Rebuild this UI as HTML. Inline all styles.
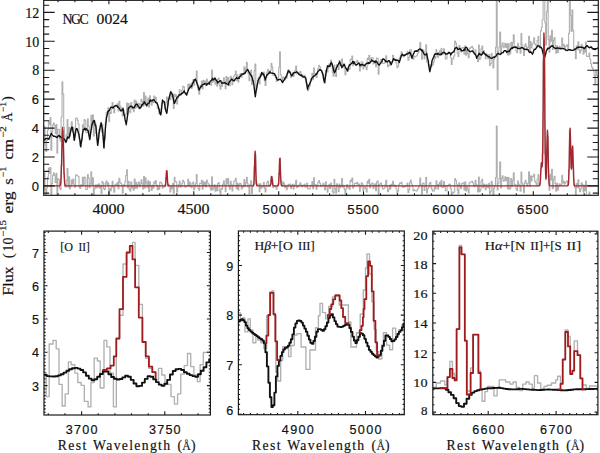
<!DOCTYPE html>
<html><head><meta charset="utf-8"><title>NGC 0024 spectrum</title>
<style>
html,body{margin:0;padding:0;background:#fff;}
body{width:600px;height:453px;overflow:hidden;font-family:"Liberation Serif",serif;}
svg{display:block;}
</style></head><body>
<svg width="600" height="453" viewBox="0 0 600 453">
<rect width="600" height="453" fill="#fff"/>
<defs>
<clipPath id="ct"><rect x="43.7" y="0.35" width="554.5999999999999" height="194.95000000000002"/></clipPath>
<clipPath id="c1"><rect x="44.0" y="231.1" width="166.4" height="183.9"/></clipPath>
<clipPath id="c2"><rect x="238.4" y="231.0" width="165.9" height="183.7"/></clipPath>
<clipPath id="c3"><rect x="432.8" y="231.2" width="165.09999999999997" height="183.5"/></clipPath>
</defs>
<g clip-path="url(#ct)">
<polyline points="43.3,145 44.1,145 44.1,126.4 45,126.4 45,141.8 45.8,141.8 45.8,151.4 46.7,151.4 46.7,140.4 47.5,140.4 47.5,130.1 48.4,130.1 48.4,121.4 49.2,121.4 49.2,124.7 50.1,124.7 50.1,117.5 50.9,117.5 50.9,150.2 51.8,150.2 51.8,132 52.6,132 52.6,124.8 53.5,124.8 53.5,123 54.3,123 54.3,125.8 55.2,125.8 55.2,133.5 56,133.5 56,124.5 56.9,124.5 56.9,153.3 57.7,153.3 57.7,129.2 58.6,129.2 58.6,129.5 59.4,129.5 59.4,138.8 60.3,138.8 60.3,141.3 61.1,141.3 61.1,117.2 62,117.2 62,81.8 62.8,81.8 62.8,94.1 63.7,94.1 63.7,127.2 64.5,127.2 64.5,141 65.4,141 65.4,142.7 66.2,142.7 66.2,134.6 67.1,134.6 67.1,119.6 67.9,119.6 67.9,138.5 68.8,138.5 68.8,127.2 69.6,127.2 69.6,136.2 70.5,136.2 70.5,130.8 71.3,130.8 71.3,121.7 72.2,121.7 72.2,128.2 73,128.2 73,127.5 73.9,127.5 73.9,139.5 74.7,139.5 74.7,136.2 75.6,136.2 75.6,118.2 76.4,118.2 76.4,118 77.3,118 77.3,120.4 78.1,120.4 78.1,124.1 79,124.1 79,139 79.8,139 79.8,146 80.7,146 80.7,143.8 81.5,143.8 81.5,139.2 82.4,139.2 82.4,124.8 83.2,124.8 83.2,128.1 84.1,128.1 84.1,119.6 84.9,119.6 84.9,120.3 85.8,120.3 85.8,132.2 86.6,132.2 86.6,132.6 87.5,132.6 87.5,118.9 88.3,118.9 88.3,126 89.2,126 89.2,139.9 90,139.9 90,132.3 90.9,132.3 90.9,115.3 91.7,115.3 91.7,124.9 92.6,124.9 92.6,114.8 93.4,114.8 93.4,136 94.3,136 94.3,124.4 95.1,124.4 95.1,123.8 96,123.8 96,133.4 96.8,133.4 96.8,139.5 97.7,139.5 97.7,142.7 98.5,142.7 98.5,132.2 99.4,132.2 99.4,130.3 100.2,130.3 100.2,124.7 101.1,124.7 101.1,132.1 101.9,132.1 101.9,124.3 102.8,124.3 102.8,135.3 103.6,135.3 103.6,148.4 104.5,148.4 104.5,139.2 105.3,139.2 105.3,122.5 106.2,122.5 106.2,112.3 107,112.3 107,112.9 107.9,112.9 107.9,107.7 108.7,107.7 108.7,121.4 109.6,121.4 109.6,112.2 110.4,112.2 110.4,113.4 111.3,113.4 111.3,108.7 112.1,108.7 112.1,102.6 113,102.6 113,108.5 113.8,108.5 113.8,112.8 114.7,112.8 114.7,105.9 115.5,105.9 115.5,105.1 116.4,105.1 116.4,106.4 117.2,106.4 117.2,103.7 118.1,103.7 118.1,111 118.9,111 118.9,101.4 119.8,101.4 119.8,106.1 120.6,106.1 120.6,107.9 121.5,107.9 121.5,109.4 122.3,109.4 122.3,115.9 123.2,115.9 123.2,110.1 124,110.1 124,115.4 124.9,115.4 124.9,115.3 125.7,115.3 125.7,113.5 126.6,113.5 126.6,103.1 127.4,103.1 127.4,114.4 128.3,114.4 128.3,103.6 129.1,103.6 129.1,111.2 130,111.2 130,112.7 130.8,112.7 130.8,102.6 131.7,102.6 131.7,108.8 132.5,108.8 132.5,106.7 133.4,106.7 133.4,111.6 134.2,111.6 134.2,100 135.1,100 135.1,108.1 135.9,108.1 135.9,101.1 136.8,101.1 136.8,107.2 137.6,107.2 137.6,104.2 138.5,104.2 138.5,103.2 139.3,103.2 139.3,107.8 140.2,107.8 140.2,104.2 141,104.2 141,99.2 141.9,99.2 141.9,101.5 142.7,101.5 142.7,106.1 143.6,106.1 143.6,92.5 144.4,92.5 144.4,104.9 145.3,104.9 145.3,96 146.1,96 146.1,102.4 147,102.4 147,106 147.8,106 147.8,98 148.7,98 148.7,107.1 149.5,107.1 149.5,95.8 150.4,95.8 150.4,100 151.2,100 151.2,105.1 152.1,105.1 152.1,100.3 152.9,100.3 152.9,102.7 153.8,102.7 153.8,96 154.6,96 154.6,99.2 155.5,99.2 155.5,97.3 156.3,97.3 156.3,102.7 157.2,102.7 157.2,108.5 158,108.5 158,108.3 158.9,108.3 158.9,113.7 159.7,113.7 159.7,109.1 160.6,109.1 160.6,109.9 161.4,109.9 161.4,103.6 162.3,103.6 162.3,102.4 163.1,102.4 163.1,102.3 164,102.3 164,102.9 164.8,102.9 164.8,108.9 165.7,108.9 165.7,102.4 166.5,102.4 166.5,97.1 167.4,97.1 167.4,105.3 168.2,105.3 168.2,98.7 169.1,98.7 169.1,97.5 169.9,97.5 169.9,99.5 170.8,99.5 170.8,92.9 171.6,92.9 171.6,96.8 172.5,96.8 172.5,94.6 173.3,94.6 173.3,108.5 174.2,108.5 174.2,94 175,94 175,96.5 175.9,96.5 175.9,95.1 176.7,95.1 176.7,103.9 177.6,103.9 177.6,97.9 178.4,97.9 178.4,94.5 179.3,94.5 179.3,89.8 180.1,89.8 180.1,95.5 181,95.5 181,93.9 181.8,93.9 181.8,90.1 182.7,90.1 182.7,86.2 183.5,86.2 183.5,86.9 184.4,86.9 184.4,92.6 185.2,92.6 185.2,94.4 186.1,94.4 186.1,94.9 186.9,94.9 186.9,92.7 187.8,92.7 187.8,84.3 188.6,84.3 188.6,88.9 189.5,88.9 189.5,83.9 190.3,83.9 190.3,87.5 191.2,87.5 191.2,88.5 192,88.5 192,82.6 192.9,82.6 192.9,79.6 193.7,79.6 193.7,85.5 194.6,85.5 194.6,81.3 195.4,81.3 195.4,78.8 196.3,78.8 196.3,71.1 197.1,71.1 197.1,84.9 198,84.9 198,90 198.8,90 198.8,94.2 199.7,94.2 199.7,86.2 200.5,86.2 200.5,85.2 201.4,85.2 201.4,81 202.2,81 202.2,88.9 203.1,88.9 203.1,80.4 203.9,80.4 203.9,83.8 204.8,83.8 204.8,81 205.6,81 205.6,85.8 206.5,85.8 206.5,79 207.3,79 207.3,81.6 208.2,81.6 208.2,82.5 209,82.5 209,82.9 209.9,82.9 209.9,84.2 210.7,84.2 210.7,85.1 211.6,85.1 211.6,70 212.4,70 212.4,82.1 213.3,82.1 213.3,80.4 214.1,80.4 214.1,77.2 215,77.2 215,84.2 215.8,84.2 215.8,80.7 216.7,80.7 216.7,86.1 217.5,86.1 217.5,79.3 218.4,79.3 218.4,78.1 219.2,78.1 219.2,85.8 220.1,85.8 220.1,89.1 220.9,89.1 220.9,84 221.8,84 221.8,86.2 222.6,86.2 222.6,81.3 223.5,81.3 223.5,77.8 224.3,77.8 224.3,81.7 225.2,81.7 225.2,88.7 226,88.7 226,76.5 226.9,76.5 226.9,82.4 227.7,82.4 227.7,77.6 228.6,77.6 228.6,84.2 229.4,84.2 229.4,85.7 230.3,85.7 230.3,76.2 231.1,76.2 231.1,77.9 232,77.9 232,84.7 232.8,84.7 232.8,79.9 233.7,79.9 233.7,76 234.5,76 234.5,74.8 235.4,74.8 235.4,71 236.2,71 236.2,80.5 237.1,80.5 237.1,74.9 237.9,74.9 237.9,82 238.8,82 238.8,76.6 239.6,76.6 239.6,74.4 240.5,74.4 240.5,73.5 241.3,73.5 241.3,77.1 242.2,77.1 242.2,74.4 243,74.4 243,74.6 243.9,74.6 243.9,66.9 244.7,66.9 244.7,72.4 245.6,72.4 245.6,68.2 246.4,68.2 246.4,62.3 247.3,62.3 247.3,69.1 248.1,69.1 248.1,73.7 249,73.7 249,80.7 249.8,80.7 249.8,72.5 250.7,72.5 250.7,70 251.5,70 251.5,84.4 252.4,84.4 252.4,80.4 253.2,80.4 253.2,81.6 254.1,81.6 254.1,70.6 254.9,70.6 254.9,64 255.8,64 255.8,89 256.6,89 256.6,85.7 257.5,85.7 257.5,80.2 258.3,80.2 258.3,77.4 259.2,77.4 259.2,84 260,84 260,73.9 260.9,73.9 260.9,76.1 261.7,76.1 261.7,74.1 262.6,74.1 262.6,75 263.4,75 263.4,72.1 264.3,72.1 264.3,80.6 265.1,80.6 265.1,85.5 266,85.5 266,77.3 266.8,77.3 266.8,72.1 267.7,72.1 267.7,69.4 268.5,69.4 268.5,73.7 269.4,73.7 269.4,71.2 270.2,71.2 270.2,70.3 271.1,70.3 271.1,63.4 271.9,63.4 271.9,66.9 272.8,66.9 272.8,75.3 273.6,75.3 273.6,75.1 274.5,75.1 274.5,74.7 275.3,74.7 275.3,77.4 276.2,77.4 276.2,81.5 277,81.5 277,80.1 277.9,80.1 277.9,77.3 278.7,77.3 278.7,67.2 279.6,67.2 279.6,51.9 280.4,51.9 280.4,74.6 281.3,74.6 281.3,77.3 282.1,77.3 282.1,82.4 283,82.4 283,77.1 283.8,77.1 283.8,77.6 284.7,77.6 284.7,79.8 285.5,79.8 285.5,76.3 286.4,76.3 286.4,78.1 287.2,78.1 287.2,73.4 288.1,73.4 288.1,69.6 288.9,69.6 288.9,70.7 289.8,70.7 289.8,71.7 290.6,71.7 290.6,77.3 291.5,77.3 291.5,75.6 292.3,75.6 292.3,72.9 293.2,72.9 293.2,76.5 294,76.5 294,72.8 294.9,72.8 294.9,70.4 295.7,70.4 295.7,66.1 296.6,66.1 296.6,73.7 297.4,73.7 297.4,73.8 298.3,73.8 298.3,73.9 299.1,73.9 299.1,72.7 300,72.7 300,71.4 300.8,71.4 300.8,74 301.7,74 301.7,76.2 302.5,76.2 302.5,75.4 303.4,75.4 303.4,75.9 304.2,75.9 304.2,75.4 305.1,75.4 305.1,79.3 305.9,79.3 305.9,82.7 306.8,82.7 306.8,84.4 307.6,84.4 307.6,90.7 308.5,90.7 308.5,88.7 309.3,88.7 309.3,86.3 310.2,86.3 310.2,80.8 311,80.8 311,78.2 311.9,78.2 311.9,73.3 312.7,73.3 312.7,79.7 313.6,79.7 313.6,67.9 314.4,67.9 314.4,73.9 315.3,73.9 315.3,73.5 316.1,73.5 316.1,77.5 317,77.5 317,73.2 317.8,73.2 317.8,68.3 318.7,68.3 318.7,65.4 319.5,65.4 319.5,66.8 320.4,66.8 320.4,70.5 321.2,70.5 321.2,71 322.1,71 322.1,72.6 322.9,72.6 322.9,74.1 323.8,74.1 323.8,80.2 324.6,80.2 324.6,83.1 325.5,83.1 325.5,70.3 326.3,70.3 326.3,70 327.2,70 327.2,72 328,72 328,67.9 328.9,67.9 328.9,63.9 329.7,63.9 329.7,66.8 330.6,66.8 330.6,60.1 331.4,60.1 331.4,64.1 332.3,64.1 332.3,72.5 333.1,72.5 333.1,76.3 334,76.3 334,65.1 334.8,65.1 334.8,73.8 335.7,73.8 335.7,76.4 336.5,76.4 336.5,64.9 337.4,64.9 337.4,66.4 338.2,66.4 338.2,69.5 339.1,69.5 339.1,60.2 339.9,60.2 339.9,65 340.8,65 340.8,65.2 341.6,65.2 341.6,59 342.5,59 342.5,66.8 343.3,66.8 343.3,64 344.2,64 344.2,68.5 345,68.5 345,74.7 345.9,74.7 345.9,71 346.7,71 346.7,68.7 347.6,68.7 347.6,71.4 348.4,71.4 348.4,68.4 349.3,68.4 349.3,69.2 350.1,69.2 350.1,59.2 351,59.2 351,59.8 351.8,59.8 351.8,56.1 352.7,56.1 352.7,65.7 353.5,65.7 353.5,63.7 354.4,63.7 354.4,61.9 355.2,61.9 355.2,62.1 356.1,62.1 356.1,62.3 356.9,62.3 356.9,60.4 357.8,60.4 357.8,62.1 358.6,62.1 358.6,62.5 359.5,62.5 359.5,70.9 360.3,70.9 360.3,66.5 361.2,66.5 361.2,61.7 362,61.7 362,62 362.9,62 362.9,69 363.7,69 363.7,66.4 364.6,66.4 364.6,66.1 365.4,66.1 365.4,67.1 366.3,67.1 366.3,69.7 367.1,69.7 367.1,58.4 368,58.4 368,59.6 368.8,59.6 368.8,55.2 369.7,55.2 369.7,63.1 370.5,63.1 370.5,59.1 371.4,59.1 371.4,57.5 372.2,57.5 372.2,57.8 373.1,57.8 373.1,64 373.9,64 373.9,61.5 374.8,61.5 374.8,60.4 375.6,60.4 375.6,66.8 376.5,66.8 376.5,58 377.3,58 377.3,58.3 378.2,58.3 378.2,74.1 379,74.1 379,63.2 379.9,63.2 379.9,61.3 380.7,61.3 380.7,59.3 381.6,59.3 381.6,60.2 382.4,60.2 382.4,63.2 383.3,63.2 383.3,63.5 384.1,63.5 384.1,63.1 385,63.1 385,60.4 385.8,60.4 385.8,55.9 386.7,55.9 386.7,62.3 387.5,62.3 387.5,66.7 388.4,66.7 388.4,65.2 389.2,65.2 389.2,61.2 390.1,61.2 390.1,65.5 390.9,65.5 390.9,61.6 391.8,61.6 391.8,61.8 392.6,61.8 392.6,55.2 393.5,55.2 393.5,58.1 394.3,58.1 394.3,60.1 395.2,60.1 395.2,59.1 396,59.1 396,62.9 396.9,62.9 396.9,67.8 397.7,67.8 397.7,66.5 398.6,66.5 398.6,61.1 399.4,61.1 399.4,57.8 400.3,57.8 400.3,55.5 401.1,55.5 401.1,51.7 402,51.7 402,55.1 402.8,55.1 402.8,56.6 403.7,56.6 403.7,55.7 404.5,55.7 404.5,55.5 405.4,55.5 405.4,55.1 406.2,55.1 406.2,53.7 407.1,53.7 407.1,51.2 407.9,51.2 407.9,60.3 408.8,60.3 408.8,57.5 409.6,57.5 409.6,50 410.5,50 410.5,49.7 411.3,49.7 411.3,55.4 412.2,55.4 412.2,56.8 413,56.8 413,59.3 413.9,59.3 413.9,56.3 414.7,56.3 414.7,56.7 415.6,56.7 415.6,56.2 416.4,56.2 416.4,55.7 417.3,55.7 417.3,53.6 418.1,53.6 418.1,52.1 419,52.1 419,49.7 419.8,49.7 419.8,42.6 420.7,42.6 420.7,50.1 421.5,50.1 421.5,59.2 422.4,59.2 422.4,49.9 423.2,49.9 423.2,50.6 424.1,50.6 424.1,58.7 424.9,58.7 424.9,54.1 425.8,54.1 425.8,44.8 426.6,44.8 426.6,62 427.5,62 427.5,61.7 428.3,61.7 428.3,64.6 429.2,64.6 429.2,65.9 430,65.9 430,65.3 430.9,65.3 430.9,66.8 431.7,66.8 431.7,65.4 432.6,65.4 432.6,64.6 433.4,64.6 433.4,61.9 434.3,61.9 434.3,56.3 435.1,56.3 435.1,58.2 436,58.2 436,49.6 436.8,49.6 436.8,52.7 437.7,52.7 437.7,57.3 438.5,57.3 438.5,52.5 439.4,52.5 439.4,50.7 440.2,50.7 440.2,53.9 441.1,53.9 441.1,48.3 441.9,48.3 441.9,54.7 442.8,54.7 442.8,53.9 443.6,53.9 443.6,48.7 444.5,48.7 444.5,53.8 445.3,53.8 445.3,59 446.2,59 446.2,58.7 447,58.7 447,53.2 447.9,53.2 447.9,52.6 448.7,52.6 448.7,52.4 449.6,52.4 449.6,52.7 450.4,52.7 450.4,57.6 451.3,57.6 451.3,64.4 452.1,64.4 452.1,59 453,59 453,58.6 453.8,58.6 453.8,55.9 454.7,55.9 454.7,41.1 455.5,41.1 455.5,43.1 456.4,43.1 456.4,47 457.2,47 457.2,53.4 458.1,53.4 458.1,56.4 458.9,56.4 458.9,45.5 459.8,45.5 459.8,48.7 460.6,48.7 460.6,51.9 461.5,51.9 461.5,48 462.3,48 462.3,47.9 463.2,47.9 463.2,47.4 464,47.4 464,54.2 464.9,54.2 464.9,45.9 465.7,45.9 465.7,55.1 466.6,55.1 466.6,50.4 467.4,50.4 467.4,53.6 468.3,53.6 468.3,57.8 469.1,57.8 469.1,48.4 470,48.4 470,47.9 470.8,47.9 470.8,47.1 471.7,47.1 471.7,46.3 472.5,46.3 472.5,48.1 473.4,48.1 473.4,52.1 474.2,52.1 474.2,54.4 475.1,54.4 475.1,49.8 475.9,49.8 475.9,55.7 476.8,55.7 476.8,57 477.6,57 477.6,61.6 478.5,61.6 478.5,45.1 479.3,45.1 479.3,59.5 480.2,59.5 480.2,58 481,58 481,48.7 481.9,48.7 481.9,46.1 482.7,46.1 482.7,53.7 483.6,53.7 483.6,50.7 484.4,50.7 484.4,54.4 485.3,54.4 485.3,58.7 486.1,58.7 486.1,53.8 487,53.8 487,56.8 487.8,56.8 487.8,58.8 488.7,58.8 488.7,54.5 489.5,54.5 489.5,65.4 490.4,65.4 490.4,63.6 491.2,63.6 491.2,53.6 492.1,53.6 492.1,56.7 492.9,56.7 492.9,67.9 493.8,67.9 493.8,59.6 494.6,59.6 494.6,56.1 495.5,56.1 495.5,47.1 496.3,47.1 496.3,-30 497.2,-30 497.2,89.8 498,89.8 498,51.9 498.9,51.9 498.9,47 499.7,47 499.7,32 500.6,32 500.6,54 501.4,54 501.4,45.7 502.3,45.7 502.3,42.8 503.1,42.8 503.1,47.8 504,47.8 504,46.8 504.8,46.8 504.8,43.3 505.7,43.3 505.7,47.4 506.5,47.4 506.5,43.9 507.4,43.9 507.4,54.9 508.2,54.9 508.2,43.5 509.1,43.5 509.1,54.8 509.9,54.8 509.9,53.1 510.8,53.1 510.8,42.4 511.6,42.4 511.6,48.9 512.5,48.9 512.5,42.6 513.3,42.6 513.3,34.9 514.2,34.9 514.2,46.1 515,46.1 515,46.5 515.9,46.5 515.9,50.7 516.7,50.7 516.7,52.6 517.6,52.6 517.6,43.3 518.4,43.3 518.4,46.4 519.3,46.4 519.3,47.9 520.1,47.9 520.1,53.1 521,53.1 521,33.6 521.8,33.6 521.8,44.8 522.7,44.8 522.7,47.5 523.5,47.5 523.5,55.5 524.4,55.5 524.4,46.1 525.2,46.1 525.2,43.8 526.1,43.8 526.1,46.9 526.9,46.9 526.9,49.8 527.8,49.8 527.8,47.4 528.6,47.4 528.6,36.4 529.5,36.4 529.5,51.4 530.3,51.4 530.3,41.5 531.2,41.5 531.2,48 532,48 532,44.7 532.9,44.7 532.9,42.7 533.7,42.7 533.7,37.8 534.6,37.8 534.6,43.7 535.4,43.7 535.4,45 536.3,45 536.3,47.2 537.1,47.2 537.1,40.6 538,40.6 538,36.2 538.8,36.2 538.8,46.8 539.7,46.8 539.7,45.6 540.5,45.6 540.5,30.9 541.4,30.9 541.4,27.3 542.2,27.3 542.2,19.8 543.1,19.8 543.1,-70 543.9,-70 543.9,-75.1 544.8,-75.1 544.8,22.7 545.6,22.7 545.6,44.9 546.5,44.9 546.5,11.6 547.3,11.6 547.3,-0.4 548.2,-0.4 548.2,39.6 549,39.6 549,52.2 549.9,52.2 549.9,35.9 550.7,35.9 550.7,41.3 551.6,41.3 551.6,30.4 552.4,30.4 552.4,49.5 553.3,49.5 553.3,40.2 554.1,40.2 554.1,37.6 555,37.6 555,45.2 555.8,45.2 555.8,53.3 556.7,53.3 556.7,45.8 557.5,45.8 557.5,52.4 558.4,52.4 558.4,48.7 559.2,48.7 559.2,46.3 560.1,46.3 560.1,48.2 560.9,48.2 560.9,47.5 561.8,47.5 561.8,38.1 562.6,38.1 562.6,46 563.5,46 563.5,44.4 564.3,44.4 564.3,47.7 565.2,47.7 565.2,46.4 566,46.4 566,45.9 566.9,45.9 566.9,44.7 567.7,44.7 567.7,48.7 568.6,48.7 568.6,33.4 569.4,33.4 569.4,-6.1 570.3,-6.1 570.3,15.2 571.1,15.2 571.1,31.4 572,31.4 572,9.8 572.8,9.8 572.8,30.2 573.7,30.2 573.7,48.5 574.5,48.5 574.5,50.2 575.4,50.2 575.4,58.8 576.2,58.8 576.2,46 577.1,46 577.1,49.3 577.9,49.3 577.9,41.8 578.8,41.8 578.8,49.9 579.6,49.9 579.6,53 580.5,53 580.5,50.4 581.3,50.4 581.3,44.4 582.2,44.4 582.2,46.3 583,46.3 583,54.1 583.9,54.1 583.9,47.2 584.7,47.2 584.7,52.1 585.6,52.1 585.6,42.1 586.4,42.1 586.4,56.1 587.3,56.1 587.3,56.5 588.1,56.5 588.1,56.5 589,56.5 589,53.1 589.8,53.1 589.8,59.2 590.7,59.2 590.7,63.7 591.5,63.7 591.5,67.1 592.4,67.1 592.4,68.3 593.2,68.3 593.2,70.7 594.1,70.7 594.1,75.8 594.9,75.8 594.9,84.5 595.8,84.5 595.8,69.8 596.6,69.8 596.6,75.2 597.5,75.2 597.5,76.6 598.3,76.6" fill="none" stroke="#b0b0b0" stroke-width="1.1" stroke-linejoin="round" />
<polyline points="43.3,190.9 44.1,190.9 44.1,172.9 45,172.9 45,188.9 45.8,188.9 45.8,199 46.7,199 46.7,187.7 47.5,187.7 47.5,177.1 48.4,177.1 48.4,168.1 49.2,168.1 49.2,173.1 50.1,173.1 50.1,167.5 50.9,167.5 50.9,201.9 51.8,201.9 51.8,183.4 52.6,183.4 52.6,175.4 53.5,175.4 53.5,172.9 54.3,172.9 54.3,175.2 55.2,175.2 55.2,182.5 56,182.5 56,173.2 56.9,173.2 56.9,202.2 57.7,202.2 57.7,178.9 58.6,178.9 58.6,179.3 59.4,179.3 59.4,187.9 60.3,187.9 60.3,189.8 61.1,189.8 61.1,165.3 62,165.3 62,129.5 62.8,129.5 62.8,141.3 63.7,141.3 63.7,174 64.5,174 64.5,186.8 65.4,186.8 65.4,187.1 66.2,187.1 66.2,180.5 67.1,180.5 67.1,168.5 67.9,168.5 67.9,187 68.8,187 68.8,176.8 69.6,176.8 69.6,188.7 70.5,188.7 70.5,186.1 71.3,186.1 71.3,179.9 72.2,179.9 72.2,184 73,184 73,179 73.9,179 73.9,185.1 74.7,185.1 74.7,187.3 75.6,187.3 75.6,174.8 76.4,174.8 76.4,175.1 77.3,175.1 77.3,175.7 78.1,175.7 78.1,176.6 79,176.6 79,186.8 79.8,186.8 79.8,188.5 80.7,188.5 80.7,184.8 81.5,184.8 81.5,185.9 82.4,185.9 82.4,177.3 83.2,177.3 83.2,184.9 84.1,184.9 84.1,177.1 84.9,177.1 84.9,177.8 85.8,177.8 85.8,189.5 86.6,189.5 86.6,189.2 87.5,189.2 87.5,174.6 88.3,174.6 88.3,178.1 89.2,178.1 89.2,187.6 90,187.6 90,183.2 90.9,183.2 90.9,171.7 91.7,171.7 91.7,184.8 92.6,184.8 92.6,177.7 93.4,177.7 93.4,200.5 94.3,200.5 94.3,188.7 95.1,188.7 95.1,185 96,185 96,187.9 96.8,187.9 96.8,184.9 97.7,184.9 97.7,186.9 98.5,186.9 98.5,183.9 99.4,183.9 99.4,188.1 100.2,188.1 100.2,186.1 101.1,186.1 101.1,193.4 101.9,193.4 101.9,181.6 102.8,181.6 102.8,182.8 103.6,182.8 103.6,188.7 104.5,188.7 104.5,189.8 105.3,189.8 105.3,183 106.2,183 106.2,180.9 107,180.9 107,185.2 107.9,185.2 107.9,182.7 108.7,182.7 108.7,196.9 109.6,196.9 109.6,188.5 110.4,188.5 110.4,190.7 111.3,190.7 111.3,187 112.1,187 112.1,181.4 113,181.4 113,187.6 113.8,187.6 113.8,192.2 114.7,192.2 114.7,185.1 115.5,185.1 115.5,184 116.4,184 116.4,185.2 117.2,185.2 117.2,182.2 118.1,182.2 118.1,188.7 118.9,188.7 118.9,178.3 119.8,178.3 119.8,182.2 120.6,182.2 120.6,183.2 121.5,183.2 121.5,185.3 122.3,185.3 122.3,193.1 123.2,193.1 123.2,184.8 124,184.8 124,186 124.9,186 124.9,181.6 125.7,181.6 125.7,175.5 126.6,175.5 126.6,169.8 127.4,169.8 127.4,187.7 128.3,187.7 128.3,181.4 129.1,181.4 129.1,189.4 130,189.4 130,191.3 130.8,191.3 130.8,181.7 131.7,181.7 131.7,188.2 132.5,188.2 132.5,185.7 133.4,185.7 133.4,190.2 134.2,190.2 134.2,179 135.1,179 135.1,188.2 135.9,188.2 135.9,182.3 136.8,182.3 136.8,188.3 137.6,188.3 137.6,184.2 138.5,184.2 138.5,182 139.3,182 139.3,186.7 140.2,186.7 140.2,184 141,184 141,179.8 141.9,179.8 141.9,183.2 142.7,183.2 142.7,189 143.6,189 143.6,176.4 144.4,176.4 144.4,188 145.3,188 145.3,177.8 146.1,177.8 146.1,182.8 147,182.8 147,187.4 147.8,187.4 147.8,180.9 148.7,180.9 148.7,191.4 149.5,191.4 149.5,181.7 150.4,181.7 150.4,185.6 151.2,185.6 151.2,190.5 152.1,190.5 152.1,185.4 152.9,185.4 152.9,188.2 153.8,188.2 153.8,181.9 154.6,181.9 154.6,183.7 155.5,183.7 155.5,180.6 156.3,180.6 156.3,185.1 157.2,185.1 157.2,189.8 158,189.8 158,186.7 158.9,186.7 158.9,189.3 159.7,189.3 159.7,182 160.6,182 160.6,182.5 161.4,182.5 161.4,183.7 162.3,183.7 162.3,188.1 163.1,188.1 163.1,187.2 164,187.2 164,185.9 164.8,185.9 164.8,186.8 165.7,186.8 165.7,177.2 166.5,177.2 166.5,171.5 167.4,171.5 167.4,185.9 168.2,185.9 168.2,184.3 169.1,184.3 169.1,186.5 169.9,186.5 169.9,191.9 170.8,191.9 170.8,186.3 171.6,186.3 171.6,188.6 172.5,188.6 172.5,183.6 173.3,183.6 173.3,193.3 174.2,193.3 174.2,177.4 175,177.4 175,181.6 175.9,181.6 175.9,181.9 176.7,181.9 176.7,192.1 177.6,192.1 177.6,187.2 178.4,187.2 178.4,184.9 179.3,184.9 179.3,181 180.1,181 180.1,187.3 181,187.3 181,186.3 181.8,186.3 181.8,183.3 182.7,183.3 182.7,180.2 183.5,180.2 183.5,181.7 184.4,181.7 184.4,186.7 185.2,186.7 185.2,187.1 186.1,187.1 186.1,186.2 186.9,186.2 186.9,185.3 187.8,185.3 187.8,179.2 188.6,179.2 188.6,186.1 189.5,186.1 189.5,182 190.3,182 190.3,186.1 191.2,186.1 191.2,187.7 192,187.7 192,183.3 192.9,183.3 192.9,182 193.7,182 193.7,189.7 194.6,189.7 194.6,187.2 195.4,187.2 195.4,183.5 196.3,183.5 196.3,174.5 197.1,174.5 197.1,185.7 198,185.7 198,188.3 198.8,188.3 198.8,190.2 199.7,190.2 199.7,183.3 200.5,183.3 200.5,183.5 201.4,183.5 201.4,180.3 202.2,180.3 202.2,189.1 203.1,189.1 203.1,181.4 203.9,181.4 203.9,185.5 204.8,185.5 204.8,182.4 205.6,182.4 205.6,186.9 206.5,186.9 206.5,180 207.3,180 207.3,182.8 208.2,182.8 208.2,184 209,184 209,185 209.9,185 209.9,187.9 210.7,187.9 210.7,190.2 211.6,190.2 211.6,176.7 212.4,176.7 212.4,189.7 213.3,189.7 213.3,188 214.1,188 214.1,184.8 215,184.8 215,191.2 215.8,191.2 215.8,186.6 216.7,186.6 216.7,190.8 217.5,190.8 217.5,183.6 218.4,183.6 218.4,182.6 219.2,182.6 219.2,190.6 220.1,190.6 220.1,194.1 220.9,194.1 220.9,188.3 221.8,188.3 221.8,189.3 222.6,189.3 222.6,184.1 223.5,184.1 223.5,180.9 224.3,180.9 224.3,185 225.2,185 225.2,191.6 226,191.6 226,178.8 226.9,178.8 226.9,184 227.7,184 227.7,178.6 228.6,178.6 228.6,186.3 229.4,186.3 229.4,189.2 230.3,189.2 230.3,181.2 231.1,181.2 231.1,184.3 232,184.3 232,190.9 232.8,190.9 232.8,185.6 233.7,185.6 233.7,181.2 234.5,181.2 234.5,180.9 235.4,180.9 235.4,178.2 236.2,178.2 236.2,188.8 237.1,188.8 237.1,183.1 237.9,183.1 237.9,189.9 238.8,189.9 238.8,184.2 239.6,184.2 239.6,183.4 240.5,183.4 240.5,183.9 241.3,183.9 241.3,188.9 242.2,188.9 242.2,186.5 243,186.5 243,186.9 243.9,186.9 243.9,179.6 244.7,179.6 244.7,186 245.6,186 245.6,182.6 246.4,182.6 246.4,177.3 247.3,177.3 247.3,183.6 248.1,183.6 248.1,187.5 249,187.5 249,193.9 249.8,193.9 249.8,184.5 250.7,184.5 250.7,180.9 251.5,180.9 251.5,193.5 252.4,193.5 252.4,186.4 253.2,186.4 253.2,184.4 254.1,184.4 254.1,166.5 254.9,166.5 254.9,153.5 255.8,153.5 255.8,183.5 256.6,183.5 256.6,185.1 257.5,185.1 257.5,184.1 258.3,184.1 258.3,184 259.2,184 259.2,191.8 260,191.8 260,183.7 260.9,183.7 260.9,188.3 261.7,188.3 261.7,186.9 262.6,186.9 262.6,186.8 263.4,186.8 263.4,182.6 264.3,182.6 264.3,188.4 265.1,188.4 265.1,192 266,192 266,185.7 266.8,185.7 266.8,182.4 267.7,182.4 267.7,181.1 268.5,181.1 268.5,186.5 269.4,186.5 269.4,185.2 270.2,185.2 270.2,184.1 271.1,184.1 271.1,176.6 271.9,176.6 271.9,179.6 272.8,179.6 272.8,187.4 273.6,187.4 273.6,186.6 274.5,186.6 274.5,185.6 275.3,185.6 275.3,186.8 276.2,186.8 276.2,189.2 277,189.2 277,186.1 277.9,186.1 277.9,183.5 278.7,183.5 278.7,173.6 279.6,173.6 279.6,158.6 280.4,158.6 280.4,180.1 281.3,180.1 281.3,181.7 282.1,181.7 282.1,185.9 283,185.9 283,182 283.8,182 283.8,183.9 284.7,183.9 284.7,187.6 285.5,187.6 285.5,186 286.4,186 286.4,189.8 287.2,189.8 287.2,187.1 288.1,187.1 288.1,184.4 288.9,184.4 288.9,184.3 289.8,184.3 289.8,184 290.6,184 290.6,188.4 291.5,188.4 291.5,186 292.3,186 292.3,184.3 293.2,184.3 293.2,189.1 294,189.1 294,186.3 294.9,186.3 294.9,184.1 295.7,184.1 295.7,180.2 296.6,180.2 296.6,187.6 297.4,187.6 297.4,186.8 298.3,186.8 298.3,186.1 299.1,186.1 299.1,184.3 300,184.3 300,182.7 300.8,182.7 300.8,185 301.7,185 301.7,186.8 302.5,186.8 302.5,185.4 303.4,185.4 303.4,185.4 304.2,185.4 304.2,184.1 305.1,184.1 305.1,187.2 305.9,187.2 305.9,186.8 306.8,186.8 306.8,183 307.6,183 307.6,188.8 308.5,188.8 308.5,188.9 309.3,188.9 309.3,188.7 310.2,188.7 310.2,185.4 311,185.4 311,185.2 311.9,185.2 311.9,181.5 312.7,181.5 312.7,188.8 313.6,188.8 313.6,177.8 314.4,177.8 314.4,184.4 315.3,184.4 315.3,184.6 316.1,184.6 316.1,189.2 317,189.2 317,185.9 317.8,185.9 317.8,182.2 318.7,182.2 318.7,180.5 319.5,180.5 319.5,183.1 320.4,183.1 320.4,186.3 321.2,186.3 321.2,186.1 322.1,186.1 322.1,185.1 322.9,185.1 322.9,183.3 323.8,183.3 323.8,185.1 324.6,185.1 324.6,189.7 325.5,189.7 325.5,181.7 326.3,181.7 326.3,186 327.2,186 327.2,192.1 328,192.1 328,188 328.9,188 328.9,184.2 329.7,184.2 329.7,188.4 330.6,188.4 330.6,183 331.4,183 331.4,185.9 332.3,185.9 332.3,191.8 333.1,191.8 333.1,193.1 334,193.1 334,179.4 334.8,179.4 334.8,188.6 335.7,188.6 335.7,193.3 336.5,193.3 336.5,183.8 337.4,183.8 337.4,186.9 338.2,186.9 338.2,191.6 339.1,191.6 339.1,184 339.9,184 339.9,187.6 340.8,187.6 340.8,185.7 341.6,185.7 341.6,178.6 342.5,178.6 342.5,187.2 343.3,187.2 343.3,185.2 344.2,185.2 344.2,189.4 345,189.4 345,193.9 345.9,193.9 345.9,188.5 346.7,188.5 346.7,184.5 347.6,184.5 347.6,187.6 348.4,187.6 348.4,186.7 349.3,186.7 349.3,189.4 350.1,189.4 350.1,180.4 351,180.4 351,181.5 351.8,181.5 351.8,178.1 352.7,178.1 352.7,188.2 353.5,188.2 353.5,185.8 354.4,185.8 354.4,183.5 355.2,183.5 355.2,183.1 356.1,183.1 356.1,183.7 356.9,183.7 356.9,182.4 357.8,182.4 357.8,184.7 358.6,184.7 358.6,184 359.5,184 359.5,191.2 360.3,191.2 360.3,187.1 361.2,187.1 361.2,182.8 362,182.8 362,183.7 362.9,183.7 362.9,190.5 363.7,190.5 363.7,187.6 364.6,187.6 364.6,187 365.4,187 365.4,188.6 366.3,188.6 366.3,191.9 367.1,191.9 367.1,181.3 368,181.3 368,183.1 368.8,183.1 368.8,179.3 369.7,179.3 369.7,187.8 370.5,187.8 370.5,184.5 371.4,184.5 371.4,183.3 372.2,183.3 372.2,183 373.1,183 373.1,188.5 373.9,188.5 373.9,185.4 374.8,185.4 374.8,183.9 375.6,183.9 375.6,190.7 376.5,190.7 376.5,181.9 377.3,181.9 377.3,181.1 378.2,181.1 378.2,195.8 379,195.8 379,184.5 379.9,184.5 379.9,183.8 380.7,183.8 380.7,183.1 381.6,183.1 381.6,185.4 382.4,185.4 382.4,188.9 383.3,188.9 383.3,188.8 384.1,188.8 384.1,188 385,188 385,184.8 385.8,184.8 385.8,180.2 386.7,180.2 386.7,187 387.5,187 387.5,191.7 388.4,191.7 388.4,190 389.2,190 389.2,185.3 390.1,185.3 390.1,188.9 390.9,188.9 390.9,184.4 391.8,184.4 391.8,185.7 392.6,185.7 392.6,181.2 393.5,181.2 393.5,184.7 394.3,184.7 394.3,186.4 395.2,186.4 395.2,185.3 396,185.3 396,188.8 396.9,188.8 396.9,193.1 397.7,193.1 397.7,190.9 398.6,190.9 398.6,184.7 399.4,184.7 399.4,183.1 400.3,183.1 400.3,183.4 401.1,183.4 401.1,182.2 402,182.2 402,186 402.8,186 402.8,187.5 403.7,187.5 403.7,186.6 404.5,186.6 404.5,186.6 405.4,186.6 405.4,186.5 406.2,186.5 406.2,185.4 407.1,185.4 407.1,183.1 407.9,183.1 407.9,192.5 408.8,192.5 408.8,189.9 409.6,189.9 409.6,182.4 410.5,182.4 410.5,180.1 411.3,180.1 411.3,183.7 412.2,183.7 412.2,186 413,186 413,190.7 413.9,190.7 413.9,189.8 414.7,189.8 414.7,190.7 415.6,190.7 415.6,190.8 416.4,190.8 416.4,190.9 417.3,190.9 417.3,189.2 418.1,189.2 418.1,187.9 419,187.9 419,185.4 419.8,185.4 419.8,178.1 420.7,178.1 420.7,185.3 421.5,185.3 421.5,194 422.4,194 422.4,183.5 423.2,183.5 423.2,183.1 424.1,183.1 424.1,190.5 424.9,190.5 424.9,186.3 425.8,186.3 425.8,177.2 426.6,177.2 426.6,192.9 427.5,192.9 427.5,188.7 428.3,188.7 428.3,187 429.2,187 429.2,183.4 430,183.4 430,182.4 430.9,182.4 430.9,187.6 431.7,187.6 431.7,189.4 432.6,189.4 432.6,191.1 433.4,191.1 433.4,191 434.3,191 434.3,186.7 435.1,186.7 435.1,189 436,189 436,180.7 436.8,180.7 436.8,184.3 437.7,184.3 437.7,189 438.5,189 438.5,184.2 439.4,184.2 439.4,182.4 440.2,182.4 440.2,185.6 441.1,185.6 441.1,180.4 441.9,180.4 441.9,187.4 442.8,187.4 442.8,187.2 443.6,187.2 443.6,181.6 444.5,181.6 444.5,186.1 445.3,186.1 445.3,190.7 446.2,190.7 446.2,190.7 447,190.7 447,185.5 447.9,185.5 447.9,185.2 448.7,185.2 448.7,184.4 449.6,184.4 449.6,184.1 450.4,184.1 450.4,188.6 451.3,188.6 451.3,196.5 452.1,196.5 452.1,192.2 453,192.2 453,193 453.8,193 453.8,192 454.7,192 454.7,178.6 455.5,178.6 455.5,180.4 456.4,180.4 456.4,184 457.2,184 457.2,190.1 458.1,190.1 458.1,193.5 458.9,193.5 458.9,182.9 459.8,182.9 459.8,186.1 460.6,186.1 460.6,188.4 461.5,188.4 461.5,183.7 462.3,183.7 462.3,183.1 463.2,183.1 463.2,182.9 464,182.9 464,189.9 464.9,189.9 464.9,181.8 465.7,181.8 465.7,191 466.6,191 466.6,186.3 467.4,186.3 467.4,189.3 468.3,189.3 468.3,192.9 469.1,192.9 469.1,182.9 470,182.9 470,182.2 470.8,182.2 470.8,181.7 471.7,181.7 471.7,181.3 472.5,181.3 472.5,182.6 473.4,182.6 473.4,185.4 474.2,185.4 474.2,186.6 475.1,186.6 475.1,180.3 475.9,180.3 475.9,184.2 476.8,184.2 476.8,185.6 477.6,185.6 477.6,191.9 478.5,191.9 478.5,177.1 479.3,177.1 479.3,191.8 480.2,191.8 480.2,189.9 481,189.9 481,181 481.9,181 481.9,179.3 482.7,179.3 482.7,187.8 483.6,187.8 483.6,184 484.4,184 484.4,186.5 485.3,186.5 485.3,189.8 486.1,189.8 486.1,184.2 487,184.2 487,186.6 487.8,186.6 487.8,188 488.7,188 488.7,183.3 489.5,183.3 489.5,193.8 490.4,193.8 490.4,191.6 491.2,191.6 491.2,181.2 492.1,181.2 492.1,184.8 492.9,184.8 492.9,196.5 493.8,196.5 493.8,188.8 494.6,188.8 494.6,185.8 495.5,185.8 495.5,177.5 496.3,177.5 496.3,126 497.2,126 497.2,190 498,190 498,183.3 498.9,183.3 498.9,178.5 499.7,178.5 499.7,162 500.6,162 500.6,188 501.4,188 501.4,178.4 502.3,178.4 502.3,175.9 503.1,175.9 503.1,181.2 504,181.2 504,180.2 504.8,180.2 504.8,176.7 505.7,176.7 505.7,180.8 506.5,180.8 506.5,177.4 507.4,177.4 507.4,188.7 508.2,188.7 508.2,177.6 509.1,177.6 509.1,189.3 509.9,189.3 509.9,188.4 510.8,188.4 510.8,178.6 511.6,178.6 511.6,186.1 512.5,186.1 512.5,180.3 513.3,180.3 513.3,172.9 514.2,172.9 514.2,184.4 515,184.4 515,184.8 515.9,184.8 515.9,188.8 516.7,188.8 516.7,190.5 517.6,190.5 517.6,181 518.4,181 518.4,184.1 519.3,184.1 519.3,185.8 520.1,185.8 520.1,191.2 521,191.2 521,172 521.8,172 521.8,182.9 522.7,182.9 522.7,185.1 523.5,185.1 523.5,192.8 524.4,192.8 524.4,182.9 525.2,182.9 525.2,180.3 526.1,180.3 526.1,183.2 526.9,183.2 526.9,185.9 527.8,185.9 527.8,183.3 528.6,183.3 528.6,171.8 529.5,171.8 529.5,186.2 530.3,186.2 530.3,175.7 531.2,175.7 531.2,181 532,181 532,176.4 532.9,176.4 532.9,176.7 533.7,176.7 533.7,174.3 534.6,174.3 534.6,181 535.4,181 535.4,182.8 536.3,182.8 536.3,185.6 537.1,185.6 537.1,179 538,179 538,174.6 538.8,174.6 538.8,185.2 539.7,185.2 539.7,183.9 540.5,183.9 540.5,168.8 541.4,168.8 541.4,164.5 542.2,164.5 542.2,153.7 543.1,153.7 543.1,60.8 543.9,60.8 543.9,53.7 544.8,53.7 544.8,153.7 545.6,153.7 545.6,178.1 546.5,178.1 546.5,146.8 547.3,146.8 547.3,136.4 548.2,136.4 548.2,177 549,177 549,190.2 549.9,190.2 549.9,174.4 550.7,174.4 550.7,179.9 551.6,179.9 551.6,169.3 552.4,169.3 552.4,188.6 553.3,188.6 553.3,179.2 554.1,179.2 554.1,176.3 555,176.3 555,183.4 555.8,183.4 555.8,191.1 556.7,191.1 556.7,183.4 557.5,183.4 557.5,189.9 558.4,189.9 558.4,186.1 559.2,186.1 559.2,183.7 560.1,183.7 560.1,185.6 560.9,185.6 560.9,184.9 561.8,184.9 561.8,175.4 562.6,175.4 562.6,183 563.5,183 563.5,181.1 564.3,181.1 564.3,184.1 565.2,184.1 565.2,182.6 566,182.6 566,182 566.9,182 566.9,180.7 567.7,180.7 567.7,184.7 568.6,184.7 568.6,169.3 569.4,169.3 569.4,129.7 570.3,129.7 570.3,151.2 571.1,151.2 571.1,167.5 572,167.5 572,146.1 572.8,146.1 572.8,166.7 573.7,166.7 573.7,185.1 574.5,185.1 574.5,187.1 575.4,187.1 575.4,196 576.2,196 576.2,183.5 577.1,183.5 577.1,187.1 577.9,187.1 577.9,179.9 578.8,179.9 578.8,188.3 579.6,188.3 579.6,191.7 580.5,191.7 580.5,188.9 581.3,188.9 581.3,182.7 582.2,182.7 582.2,184.5 583,184.5 583,192.2 583.9,192.2 583.9,185.4 584.7,185.4 584.7,190.7 585.6,190.7 585.6,181 586.4,181 586.4,195.4 587.3,195.4 587.3,196.1 588.1,196.1 588.1,195.9 589,195.9 589,192.1 589.8,192.1 589.8,197.9 590.7,197.9 590.7,202 591.5,202 591.5,205.1 592.4,205.1 592.4,205.8 593.2,205.8 593.2,207.8 594.1,207.8 594.1,212.4 594.9,212.4 594.9,220.9 595.8,220.9 595.8,206.5 596.6,206.5 596.6,212.2 597.5,212.2 597.5,213.9 598.3,213.9" fill="none" stroke="#b0b0b0" stroke-width="1.1" stroke-linejoin="round" />
<polyline points="43.7,140.9 43.7,140 44.8,139.5 45.9,138.5 46.2,138.3 47,138.6 48.1,138.6 48.8,139.2 49.2,138.2 50.3,135.7 51.4,133.3 51.5,133.9 52.5,135.1 53.6,136.3 54.1,136.2 54.7,136.2 55.8,136.8 56.8,137.4 56.9,137.5 58,136.2 58.6,135.7 59.1,135.4 60,137 60.2,136.3 61.3,137.6 62.2,138.1 62.4,138.5 63.5,138.5 64.4,139.2 64.6,139.2 65.7,142 66.1,142 66.8,140 67.5,137 67.9,137.6 68.8,137.6 69,138.1 70.1,133.5 70.5,132 71.2,128.5 71.9,127.1 72.3,127.3 73.2,132.6 73.4,132.7 74.3,140.3 74.5,138.8 75.6,131.7 76,129.3 76.7,128.6 77.1,128.7 77.8,130.9 78.8,134.2 78.9,134.3 80,141 80.8,146.9 81.1,143.5 82.1,138.1 82.2,135.9 83.3,129.5 83.4,129.3 84.4,129.6 84.8,128.2 85.5,129.9 86.5,128.7 86.6,129.4 87.7,130.4 88.1,130.4 88.8,134.4 89.8,139.2 89.9,138.6 91,130.6 91.5,128.2 92.1,124.2 93.1,122.7 93.2,120.9 94.3,121.1 94.4,120.5 95.4,125.8 95.9,126 96.5,133.2 97.6,144.6 97.7,145.3 98.7,137.6 99.5,129.3 99.8,128.9 100.9,123.8 101.1,122.7 102,127.1 102.5,129.3 103.1,137 103.9,147.5 104.2,143.1 105.3,130.4 105.3,129.5 106.4,118.2 106.4,118 107.5,113.8 108,111.1 108.6,111.3 109.7,110 109.7,109.5 110.8,107.3 111.9,107.2 112,107.2 113,107.8 114.1,106.5 114.2,106.5 115.2,105.7 116.3,105.6 117.4,106.2 117.7,107.4 118.5,107.3 119.6,108.9 120.7,110.8 121.3,110.9 121.8,110.5 122.9,108.9 123,108.3 124,114.6 124.6,116 125.1,119.9 126.2,124.2 126.2,124.7 127.3,117.6 127.5,116 128.3,108.3 128.4,108.8 129.5,107.2 130.6,106.1 131.7,106.7 131.9,106.5 132.8,107.8 133.9,107.6 134.2,107.5 135,105.9 136.1,104.4 136.7,104.2 137.2,104.3 138.3,106.3 139.2,107.5 139.4,108.5 140.5,107.8 141.6,106.2 141.7,105 142.7,104.5 143.8,102.8 144.2,101.7 144.9,103 146,104.4 146.7,105.8 147.1,104.6 148.2,103.6 149.3,103 150,100 150.4,101.3 151.5,100.4 152.5,100.8 152.6,100.1 153.7,99.6 154.2,100 154.8,101 155.8,102.5 155.9,102.5 157,103 157.5,104.2 158.1,105.9 159.2,110 159.2,110.3 160.3,114.2 160.8,115 161.4,110.8 162.5,100 162.5,101 163.6,101.3 164.2,101.7 164.7,104.5 165.3,108.3 165.8,110.5 166.7,113.3 166.9,112.8 168,104.2 168.3,101.7 169.1,97.9 170.2,93.8 170.8,91.7 171.3,92.6 172.4,94.3 172.5,95 173.5,99.9 174.2,103.3 174.6,103.3 175.7,100.3 176.7,98.3 176.8,97.7 177.9,96.9 179,95.5 179.2,95 180.1,94.6 181.2,94.3 181.7,93.3 182.3,93.4 183.4,92.3 184.2,90.8 184.5,92.1 185.6,93.4 186.7,95 186.7,94.6 187.8,91.4 188.9,88.7 189.2,88.3 190,87.4 191.1,85.9 191.7,86.7 192.2,84.2 193.3,82.5 194.4,79.7 195,80 195.5,79.2 196.6,81.7 196.7,82.5 197.7,85.3 198.8,88.7 199.2,90 199.9,88.5 201,86.3 201.7,86.7 202.1,85 203.2,84.4 204.2,84.2 204.3,83.6 205.4,83.9 206.5,84 206.7,85 207.6,83.6 208.7,83.3 209.2,84.2 209.8,81.9 210.9,80.7 212,79.9 212.5,78.3 213.1,79.8 214.2,79.3 215,78.3 215.3,78.5 216.4,80.6 217.5,81.7 217.5,83 218.6,82.1 219.7,80.9 220.8,80.8 220.8,81.4 221.9,83.3 222.5,83.3 223,82.9 224.1,83 225,82.5 225.2,83.3 226.3,83.6 227.4,84.1 228.3,85 228.5,83.9 229.6,81.6 230.7,80.2 231.7,79.2 231.8,79.1 232.9,80.3 234,81 234.2,80.8 235.1,79.3 236.2,78.1 236.7,77.5 237.3,78.5 238.4,78.3 239.2,78.3 239.5,77.3 240.6,75.9 241.7,74.2 241.7,74.2 242.8,74 243.9,74.1 244.2,73.3 245,73.4 246.1,71.3 246.7,70.8 247.2,69.5 248.3,70.6 249.2,72.5 249.4,72.7 250.5,74.7 251.6,76.4 251.7,75.8 252.7,79.9 253.7,83.3 253.8,84.1 254.9,93.5 255.3,96.7 256,91.7 257,86.7 257.1,85.3 258.2,80.6 258.3,80 259.3,78.2 260,77.5 260.4,76.4 261.5,74 261.7,72.5 262.6,73.5 263.7,75 263.7,74.3 264.8,78.1 265.3,80 265.9,77.6 267,74.7 267.5,75 268.1,73.8 269.2,73.2 270,71.7 270.3,72.6 271.4,73.1 272.5,73.3 272.5,73.2 273.6,73.4 274.7,73.9 275,75 275.8,76.2 276.9,79 277.5,80 278,80 279.1,79.5 280,79.2 280.2,79.1 281.3,80.4 282.4,82.1 282.5,82.5 283.5,80.9 284.6,79.4 285,78.3 285.7,77.6 286.8,75.3 287.9,72.1 288.3,70.8 289,71.3 290.1,72.7 291.2,75 291.7,75.8 292.3,75.2 293.4,73.3 294.2,72.5 294.5,72.4 295.6,72.5 296.7,71.7 296.7,71.7 297.8,72.7 298.9,74.4 299.2,74.2 300,75 301.1,75.5 301.7,75 302.2,76.6 303.3,77.1 304.2,76.7 304.4,76.9 305.5,77.6 305.8,78.3 306.6,83.4 307.5,89.2 307.7,88.1 308.8,85.1 309.2,85 309.9,83.3 311,80.8 311.7,78.3 312.1,78 313.2,76.7 314.2,75.8 314.3,76 315.4,75 316.5,73.6 316.7,74.2 317.6,71.9 318.7,70.7 319.8,69.5 320,69.5 320.9,70.1 321.7,70.8 322,72 323,75 323.1,76 324.2,81.5 324.5,82.5 325.3,77.6 325.8,75 326.4,70.9 327.5,65.8 327.5,65.7 328.6,66.6 329.2,65.8 329.7,66.3 330.8,63.6 331.3,62.5 331.9,63.5 333,67.5 333,67.6 334.1,71.8 334.7,72.5 335.2,71.6 336.3,68.3 336.7,67.5 337.4,66 338.5,64 339.6,62.1 339.7,61.7 340.7,64.9 341.7,66.7 341.8,67.7 342.9,66 344,64.3 344.2,64.2 345.1,66.5 346.2,68.8 347.3,70.2 347.5,70.8 348.4,67.5 349.5,64.8 350,65 350.6,64.3 351.7,63.3 352.8,61.4 353.3,63.3 353.9,61.8 355,64 355.8,65 356.1,65.2 357.2,64.4 358.3,63.3 358.3,63.2 359.4,63.9 360,65.8 360.5,64.5 361.6,65.1 362.5,64.2 362.7,64.9 363.8,65.2 364.9,65.5 365,65 366,63.9 367.1,63.2 368.2,63.7 368.3,62.5 369.3,63.3 370.4,62.1 371.5,61 371.7,60 372.6,60.9 373.7,61.5 374.8,61.8 375,62.5 375.9,61.1 376.7,61.7 377,62.1 378.1,64.2 379.2,65 379.2,65.2 380.3,63.7 381.4,62.1 382.5,60 382.5,59.2 383.6,59 384.7,59.8 385.8,61.7 385.8,61.1 386.9,61.9 388,61.3 388.3,60.8 389.1,60.7 390.2,62.4 391.3,64.5 391.7,63.3 392.4,61.8 393.3,59.2 393.5,58.7 394.6,59.7 395.7,60.4 396.7,60 396.8,60.2 397.9,60.3 399,61.4 399.2,62.5 400.1,59.8 401.2,56.1 401.7,55 402.3,54.3 403.4,55.5 404.2,55 404.5,55.7 405.6,54.6 406.7,54.2 406.7,54 407.8,53.7 408.9,52.8 410,53.3 410,52.3 411.1,55.4 412,58.3 412.2,57.1 413.3,54.2 414.2,52.5 414.4,51.5 415.5,51 416.6,51.3 416.7,50.8 417.7,51.1 418.3,50 418.8,49.5 419.9,48.9 421,49.4 421.7,50.8 422.1,50.2 423.2,52.2 424.2,54.2 424.3,54.5 425.4,54.9 426.5,54.5 426.7,53.3 427.6,58.4 428.3,60.8 428.7,65.3 429.8,71.7 430,70.8 430.9,66.6 431.7,63.3 432,60.8 433.1,58.3 434.2,55.8 434.2,55.1 435.3,53.8 436.4,54 437.5,54.2 437.5,53.8 438.6,53.8 439.7,54.7 440.8,54.2 440.8,54.9 441.9,53.5 443,52.5 443.3,52.5 444.1,52.4 445.2,53.1 445.8,54.2 446.3,54 447.4,53.8 448.3,53.3 448.5,52.5 449.6,52.8 450.7,54.1 450.8,55 451.8,52.9 452.9,52.4 453.3,51.7 454,51.5 455,48.3 455.1,48.5 456.2,47.5 457.3,48.2 457.5,49.2 458.4,49.2 459.5,49 460,48.3 460.6,49.5 461.7,50.8 462.5,50.8 462.8,50.9 463.9,49.8 465,50 465,48.3 466.1,47.2 467.2,48 467.5,50 468.3,49.9 469.4,51.3 470,51.7 470.5,51.7 471.6,51.2 472.5,50.8 472.7,51.4 473.8,52.8 474.9,53.7 475,54.2 476,55.6 476.7,58.3 477.1,56.7 478.2,55.4 479.2,53.3 479.3,53.9 480.4,54.8 480.8,54.2 481.5,55 482.6,53.6 483.3,51.7 483.7,52.8 484.8,53.7 485.8,55 485.9,54.5 487,55.7 488.1,56.3 488.3,56.7 489.2,56.6 490.3,57.8 491.4,58.4 491.7,58.3 492.5,57.9 493.6,57.4 494.2,56.7 494.7,57.3 495.8,56.5 496.7,55 496.9,54.3 498,53.4 499.1,54.1 500,54.2 500.2,54.5 501.3,53.4 502.4,52.6 503.3,52.5 503.5,51.7 504.6,50.6 505.7,50.7 506.7,52.5 506.8,51.4 507.9,51.6 509,51 509.2,51.7 510.1,49.7 511.2,48.6 512.3,47.4 512.5,48.3 513.4,47.3 514.5,47.1 515,47.5 515.6,46.9 516.7,47.6 517.8,48.5 518.3,48.3 518.9,48.6 520,48.4 521.1,47.9 521.7,47.5 522.2,47.6 523.3,48.5 524.4,49.4 525,49.2 525.5,49.5 526.6,49.3 527.7,49.7 528.3,50 528.8,51.4 529.9,52.5 530.8,51.7 531,52.3 532.1,53.6 532.5,54.2 533.2,52.3 534.2,49.2 534.3,49.7 535.4,49.3 536.5,47.6 536.7,47.5 537.6,45.8 538.7,45.9 539.8,46.6 540,47.5 540.9,47.3 541.7,48.3 542,48.7 543,53.3 543.1,53.2 544.2,57.5 544.2,58.4 545.3,55.2 545.8,53.3 546.4,50.5 547.5,49.2 547.5,48.2 548.6,48.6 549.7,47.7 550,47.5 550.8,46.6 551.9,45.7 553,46 553.3,46.7 554.1,47.6 555.2,48.6 556.3,48.3 556.7,48.3 557.4,47.9 558.5,48.1 559.6,48.5 560,48.5 560.7,48.8 561.8,48.6 562,48.5 562.9,48.5 564,48.8 565.1,49.2 565.3,49.7 566.2,50.3 567.3,50.5 568.4,49.7 569.5,49.6 569.9,50.1 570.6,49.8 571.7,50.4 572.8,50.4 573.9,49.8 574.6,49.2 575,49.5 576.1,48.5 577.2,47.5 578.3,47.2 579.4,47 579.9,47.2 580.5,47.1 581.6,47.3 582.7,47.6 583.8,47.9 583.8,48.5 584.9,48.2 586,46.5 587.1,45.6 587.8,46.2 588.2,46.7 589.3,47.8 590.4,47.2 591.5,47 591.8,47.9 592.6,48.6 593.7,49.3 594.8,48.9 595.1,49.6 595.9,48.9 597,48.6 598.1,47.9 598.3,48.5" fill="none" stroke="#111" stroke-width="1.4" stroke-linejoin="round" />
<polyline points="43.7,185.9 59.5,185.9 59.8,185.8 60.2,185.4 60.5,184.1 60.9,180.9 61.2,174.1 61.6,162.6 61.9,147.9 62.3,134.2 62.6,127.5 63,131 63.3,143 63.7,158 64,170.8 64.4,179.1 64.7,183.4 65.1,185.1 65.4,185.7 65.8,185.9 164.8,185.9 165.2,185.6 165.5,184.5 165.9,181.3 166.2,175.5 166.6,170.6 166.9,171 167.3,176.3 167.6,181.8 168,184.8 168.3,185.7 168.7,185.9 253,185.9 253.4,185.7 253.7,184.7 254.1,180.8 254.4,171.3 254.8,158.2 255.1,151.2 255.5,157.2 255.8,170.3 256.2,180.3 256.5,184.6 256.9,185.7 257.2,185.9 269.8,185.9 270.2,185.7 270.5,185 270.9,182.9 271.2,179.3 271.6,176.4 271.9,176.8 272.3,180.2 272.6,183.5 273,185.3 273.3,185.8 273.7,185.9 277.9,185.9 278.2,185.6 278.6,184 278.9,179 279.3,169.2 279.6,159.4 280,158.1 280.3,166.7 280.7,177.1 281,183.3 281.4,185.4 281.7,185.8 282.1,185.9 539,185.9 539.3,185.8 539.7,185.4 540,184 540.4,180.5 540.7,174.1 541.1,166.7 541.4,162.6 541.8,163.9 542.1,166.9 542.5,162.6 542.8,142.2 543.2,104.2 543.5,60.2 543.9,33 544.2,39.6 544.6,75.9 544.9,120.9 545.3,155.6 545.6,174 546,179.1 546.3,173.9 546.7,160 547,142.1 547.4,130.3 547.7,133.3 548.1,148.9 548.4,166.5 548.8,178.3 549.1,183.7 549.5,185.4 549.8,185.8 550.2,185.9 567.3,185.9 567.7,185.8 568,185.5 568.4,184 568.7,179.1 569.1,167.9 569.4,150.3 569.8,133.5 570.1,128.3 570.5,138.5 570.8,155.9 571.2,168.1 571.5,169 571.9,160.1 572.2,149.5 572.6,146.3 572.9,153.7 573.3,166.4 573.6,177.1 574,182.9 574.3,185.2 574.7,185.8 575,185.9 598.1,185.9" fill="none" stroke="#a4262c" stroke-width="1.4" stroke-linejoin="round" />
</g>
<g clip-path="url(#c1)">
<polyline points="44,373 46.2,373 46.2,396.6 49.2,396.6 49.2,344 53,344 53,340.3 56.2,340.3 56.2,348.8 59,348.8 59,384.4 62.2,384.4 62.2,406 65.2,406 65.2,393.8 68.4,393.8 68.4,361.9 71.2,361.9 71.2,364.7 74.9,364.7 74.9,373.1 77.8,373.1 77.8,382.5 81.1,382.5 81.1,385.3 84.3,385.3 84.3,401.3 88.1,401.3 88.1,406.9 90.9,406.9 90.9,382.5 94.2,382.5 94.2,358.1 97.4,358.1 97.4,361 100.2,361 100.2,388 104,388 104,340.3 106.8,340.3 106.8,346.9 110,346.9 110,373.1 113.4,373.1 113.4,406.9 116.3,406.9 116.3,339.4 119.5,339.4 119.5,315.2 123,315.2 123,264 126.6,264 126.6,252.5 129.8,252.5 129.8,245.9 132.5,245.9 132.5,242.3 135.1,242.3 135.1,265.4 138.8,265.4 138.8,304.3 142.4,304.3 142.4,342 145.7,342 145.7,358.4 148.9,358.4 148.9,368.4 152.3,368.4 152.3,372 155.6,372 155.6,379.7 158.5,379.7 158.5,368.4 161.8,368.4 161.8,375 165,375 165,384.4 168.2,384.4 168.2,384.4 171,384.4 171,396.6 174.4,396.6 174.4,404.1 177.6,404.1 177.6,393.8 180.8,393.8 180.8,374.1 184.2,374.1 184.2,365.6 187.5,365.6 187.5,353.5 190.7,353.5 190.7,366.6 193.9,366.6 193.9,375 197.3,375 197.3,381.6 200.1,381.6 200.1,364.7 203.3,364.7 203.3,352.5 206.7,352.5 206.7,352.1 210.1,352.1" fill="none" stroke="#b0b0b0" stroke-width="1.35" stroke-linejoin="round" />
<polyline points="44,375 46.8,375 46.8,376.1 49.6,376.1 49.6,376.4 52.4,376.4 52.4,376.5 55.2,376.5 55.2,376.2 58,376.2 58,375.4 60.8,375.4 60.8,374.3 63.6,374.3 63.6,372.6 66.4,372.6 66.4,370.8 69.2,370.8 69.2,369.3 72,369.3 72,368.2 74.8,368.2 74.8,367.9 77.6,367.9 77.6,368.6 80.4,368.6 80.4,370 83.2,370 83.2,372.4 86,372.4 86,375.8 88.8,375.8 88.8,378.6 91.6,378.6 91.6,380.2 94.4,380.2 94.4,379.3 97.2,379.3 97.2,376.8 100,376.8 100,374 102.8,374 102.8,371.6 105.6,371.6 105.6,371.5 108.4,371.5 108.4,374.2 111.2,374.2 111.2,377 114,377 114,378.8 116.8,378.8 116.8,379.5 119.6,379.5 119.6,379 122.4,379 122.4,377.4 125.2,377.4 125.2,375.8 128,375.8 128,376.7 130.8,376.7 130.8,379.9 133.6,379.9 133.6,383.5 136.4,383.5 136.4,386.2 139.2,386.2 139.2,385.9 142,385.9 142,382.6 144.8,382.6 144.8,378.9 147.6,378.9 147.6,376.1 150.4,376.1 150.4,376.8 153.2,376.8 153.2,379.3 156,379.3 156,382.1 158.8,382.1 158.8,384.6 161.6,384.6 161.6,385.7 164.4,385.7 164.4,383.8 167.2,383.8 167.2,379.9 170,379.9 170,374.5 172.8,374.5 172.8,371 175.6,371 175.6,369.2 178.4,369.2 178.4,368.9 181.2,368.9 181.2,370 184,370 184,372.3 186.8,372.3 186.8,373.8 189.6,373.8 189.6,375.1 192.4,375.1 192.4,376.1 195.2,376.1 195.2,376.7 198,376.7 198,374.2 200.8,374.2 200.8,370.7 203.6,370.7 203.6,367.2 206.4,367.2 206.4,362.4 209.2,362.4 209.2,359.4 210.4,359.4" fill="none" stroke="#111" stroke-width="1.9" stroke-linejoin="round" />
<polyline points="103,371 103,370 106.9,370 106.9,368.4 110.6,368.4 110.6,365.6 113.8,365.6 113.8,356.3 116.3,356.3 116.3,338.3 119.5,338.3 119.5,309.1 123,309.1 123,276.8 126.6,276.8 126.6,252.5 129.8,252.5 129.8,245.9 132.5,245.9 132.5,259.3 135.1,259.3 135.1,287.3 138.8,287.3 138.8,317.6 142.4,317.6 142.4,342 145.7,342 145.7,356.3 148.9,356.3 148.9,366.6 152.3,366.6 152.3,372.2 155.6,372.2 155.6,378" fill="none" stroke="#a01c1c" stroke-width="1.8" stroke-linejoin="round" />
</g>
<g clip-path="url(#c2)">
<polyline points="238.4,312.9 240.4,312.9 240.4,320.8 242.4,320.8 242.4,318 244.9,318 244.9,331.8 247.9,331.8 247.9,318.8 250.3,318.8 250.3,330 252.9,330 252.9,342.7 255.9,342.7 255.9,335.7 257.9,335.7 257.9,340 260.8,340 260.8,342.7 263.8,342.7 263.8,348.6 266.6,348.6 266.6,315.6 269.7,315.6 269.7,292 271.8,292 271.8,291 273.8,291 273.8,315.6 275.8,315.6 275.8,372 277.7,372 277.7,381 280.7,381 280.7,360.6 282.7,360.6 282.7,346.7 285.7,346.7 285.7,348.5 288.6,348.5 288.6,356.6 291,356.6 291,345.5 294.3,345.5 294.3,335.1 297,335.1 297,333.6 301.1,333.6 301.1,347 305.9,347 305.9,369.4 309.9,369.4 309.9,350 315.5,350 315.5,327.7 318.4,327.7 318.4,315.7 320,315.7 320,303.4 322.5,303.4 322.5,312.6 325.6,312.6 325.6,318.8 328.7,318.8 328.7,306.5 332.4,306.5 332.4,297 335.5,297 335.5,295 339.2,295 339.2,304.9 341.6,304.9 341.6,305 344.7,305 344.7,305 348.4,305 348.4,322 350.9,322 350.9,347 356.5,347 356.5,332.7 360.2,332.7 360.2,314.2 363.3,314.2 363.3,290 365.5,290 365.5,268 367,268 367,253.9 369.5,253.9 369.5,274 371.9,274 371.9,301.8 374.1,301.8 374.1,329.6 376.3,329.6 376.3,351.3 378.7,351.3 378.7,359 381.8,359 381.8,345 383.4,345 383.4,332.7 386.5,332.7 386.5,345.1 389.6,345.1 389.6,349.7 392.6,349.7 392.6,328.1 395.7,328.1 395.7,335.8 398.8,335.8 398.8,329.6 401.9,329.6 401.9,325 404.3,325" fill="none" stroke="#b0b0b0" stroke-width="1.35" stroke-linejoin="round" />
<polyline points="238.4,321.6 239.9,321.6 239.9,320 241.4,320 241.4,319.3 242.9,319.3 242.9,320.2 244.4,320.2 244.4,322.1 245.9,322.1 245.9,325.6 247.4,325.6 247.4,328.2 248.9,328.2 248.9,330.1 250.4,330.1 250.4,331.6 251.9,331.6 251.9,332.7 253.4,332.7 253.4,333.9 254.9,333.9 254.9,335 256.4,335 256.4,336.1 257.9,336.1 257.9,337.3 259.4,337.3 259.4,338.4 260.9,338.4 260.9,339.3 262.4,339.3 262.4,340.7 263.9,340.7 263.9,343.2 265.4,343.2 265.4,352.2 266.9,352.2 266.9,366.4 268.4,366.4 268.4,382.8 269.9,382.8 269.9,397.2 271.4,397.2 271.4,407.1 272.9,407.1 272.9,405.2 274.4,405.2 274.4,392.6 275.9,392.6 275.9,376.4 277.4,376.4 277.4,365.9 278.9,365.9 278.9,360.6 280.4,360.6 280.4,355.9 281.9,355.9 281.9,352.1 283.4,352.1 283.4,349.5 284.9,349.5 284.9,347.7 286.4,347.7 286.4,347.3 287.9,347.3 287.9,345.7 289.4,345.7 289.4,342.8 290.9,342.8 290.9,339.3 292.4,339.3 292.4,334.4 293.9,334.4 293.9,327.6 295.4,327.6 295.4,323.5 296.9,323.5 296.9,320.9 298.4,320.9 298.4,320.4 299.9,320.4 299.9,321 301.4,321 301.4,322.6 302.9,322.6 302.9,325.6 304.4,325.6 304.4,328.6 305.9,328.6 305.9,331.7 307.4,331.7 307.4,335.7 308.9,335.7 308.9,339.6 310.4,339.6 310.4,342.9 311.9,342.9 311.9,343.7 313.4,343.7 313.4,341 314.9,341 314.9,336.8 316.4,336.8 316.4,331.7 317.9,331.7 317.9,329.1 319.4,329.1 319.4,329.1 320.9,329.1 320.9,329.9 322.4,329.9 322.4,330.9 323.9,330.9 323.9,329.3 325.4,329.3 325.4,326.3 326.9,326.3 326.9,322.5 328.4,322.5 328.4,317.9 329.9,317.9 329.9,315.2 331.4,315.2 331.4,314.3 332.9,314.3 332.9,317.4 334.4,317.4 334.4,321.1 335.9,321.1 335.9,324.1 337.4,324.1 337.4,326.6 338.9,326.6 338.9,326.9 340.4,326.9 340.4,327.1 341.9,327.1 341.9,326.6 343.4,326.6 343.4,325.7 344.9,325.7 344.9,324.9 346.4,324.9 346.4,324.5 347.9,324.5 347.9,324.7 349.4,324.7 349.4,328 350.9,328 350.9,331.9 352.4,331.9 352.4,336.6 353.9,336.6 353.9,340.5 355.4,340.5 355.4,343.1 356.9,343.1 356.9,340.2 358.4,340.2 358.4,336.8 359.9,336.8 359.9,333.1 361.4,333.1 361.4,333.6 362.9,333.6 362.9,335.2 364.4,335.2 364.4,338.9 365.9,338.9 365.9,342.6 367.4,342.6 367.4,346.3 368.9,346.3 368.9,349.9 370.4,349.9 370.4,351.8 371.9,351.8 371.9,353.7 373.4,353.7 373.4,355.1 374.9,355.1 374.9,356.3 376.4,356.3 376.4,357.5 377.9,357.5 377.9,356.3 379.4,356.3 379.4,355.1 380.9,355.1 380.9,350.7 382.4,350.7 382.4,345.9 383.9,345.9 383.9,340.7 385.4,340.7 385.4,335.5 386.9,335.5 386.9,335.4 388.4,335.4 388.4,336.9 389.9,336.9 389.9,339 391.4,339 391.4,341.3 392.9,341.3 392.9,341 394.4,341 394.4,339.4 395.9,339.4 395.9,337 397.4,337 397.4,334 398.9,334 398.9,331.9 400.4,331.9 400.4,330.4 401.9,330.4 401.9,327.4 403.4,327.4 403.4,323.8 404.3,323.8" fill="none" stroke="#111" stroke-width="1.9" stroke-linejoin="round" />
<polyline points="265.5,344 265.5,343.2 266.4,343.2 266.4,335.7 268.3,335.7 268.3,315 270.2,315 270.2,292.9 273.4,292.9 273.4,314.1 275.3,314.1 275.3,341.3 277.1,341.3 277.1,360 279,360 279,360.4" fill="none" stroke="#a01c1c" stroke-width="1.8" stroke-linejoin="round" />
<polyline points="327.8,318 327.8,314.8 329.8,314.8 329.8,309 331.3,309 331.3,304.3 333.2,304.3 333.2,299.3 335.2,299.3 335.2,295.5 339.7,295.5 339.7,300.5 341.3,300.5 341.3,308.2 343,308.2 343,317 345.2,317 345.2,323.1 348.5,323.1 348.5,324.7" fill="none" stroke="#a01c1c" stroke-width="1.8" stroke-linejoin="round" />
<polyline points="359.7,334 359.7,330.2 361.5,330.2 361.5,325.8 362.9,325.8 362.9,317.2 363.6,317.2 363.6,309 364.5,309 364.5,299.2 366.3,299.2 366.3,276.1 368.1,276.1 368.1,261.5 370,261.5 370,265.8 371.8,265.8 371.8,291.3 373.6,291.3 373.6,320.8 375.4,320.8 375.4,342.3 377.1,342.3 377.1,355.3 379.5,355.3 379.5,357" fill="none" stroke="#a01c1c" stroke-width="1.8" stroke-linejoin="round" />
</g>
<g clip-path="url(#c3)">
<polyline points="432.8,387.3 436.3,387.3 436.3,383 440.5,383 440.5,381 444.8,381 444.8,385 447,385 447,377 449.9,377 449.9,361.4 452.4,361.4 452.4,373.5 454.6,373.5 454.6,380 456.6,380 456.6,329 459.4,329 459.4,245.3 461.5,245.3 461.5,254.3 464.8,254.3 464.8,340.7 466.8,340.7 466.8,391 470.6,391 470.6,368 473.1,368 473.1,334.6 478.4,334.6 478.4,371 480.6,371 480.6,389 482.1,389 482.1,401.2 484.9,401.2 484.9,391.6 487.5,391.6 487.5,386.3 493.9,386.3 493.9,395.9 497.1,395.9 497.1,388.4 499.2,388.4 499.2,379.9 505.6,379.9 505.6,382 509.9,382 509.9,384.1 513.1,384.1 513.1,382 516.3,382 516.3,387.3 519.5,387.3 519.5,390.5 522.7,390.5 522.7,384.1 525.9,384.1 525.9,382 529.1,382 529.1,384.1 532.3,384.1 532.3,388.4 534.4,388.4 534.4,375.6 537.6,375.6 537.6,383 540.8,383 540.8,389.5 544,389.5 544,386.3 547.2,386.3 547.2,385.2 551.5,385.2 551.5,383 555.7,383 555.7,379.9 557.6,379.9 557.6,376.2 560.5,376.2 560.5,383 562.7,383 562.7,359 565.3,359 565.3,330 568,330 568,336.4 570.2,336.4 570.2,374 572.4,374 572.4,370.7 574.2,370.7 574.2,340.8 577.5,340.8 577.5,355.2 580.3,355.2 580.3,378.4 582.5,378.4 582.5,385 586.3,385 586.3,388.3 589.6,388.3 589.6,386 594,386 594,386 597.9,386" fill="none" stroke="#b0b0b0" stroke-width="1.35" stroke-linejoin="round" />
<polyline points="432.8,388.4 435.4,388.4 435.4,388.4 438,388.4 438,388.4 440.6,388.4 440.6,388.4 443.2,388.4 443.2,388.4 445.8,388.4 445.8,389.7 448.4,389.7 448.4,392.2 451,392.2 451,394.9 453.6,394.9 453.6,398.2 456.2,398.2 456.2,403.1 458.8,403.1 458.8,406.1 461.4,406.1 461.4,406.7 464,406.7 464,403.7 466.6,403.7 466.6,398.8 469.2,398.8 469.2,394.7 471.8,394.7 471.8,392.6 474.4,392.6 474.4,391.1 477,391.1 477,390.2 479.6,390.2 479.6,389.5 482.2,389.5 482.2,389.1 484.8,389.1 484.8,388.6 487.4,388.6 487.4,388.3 490,388.3 490,388.2 492.6,388.2 492.6,388 495.2,388 495.2,387.9 497.8,387.9 497.8,387.8 500.4,387.8 500.4,388.1 503,388.1 503,388.6 505.6,388.6 505.6,389 508.2,389 508.2,389.2 510.8,389.2 510.8,389.4 513.4,389.4 513.4,389.4 516,389.4 516,389.2 518.6,389.2 518.6,388.9 521.2,388.9 521.2,388.9 523.8,388.9 523.8,389.1 526.4,389.1 526.4,389.4 529,389.4 529,389.6 531.6,389.6 531.6,389.8 534.2,389.8 534.2,389.9 536.8,389.9 536.8,390.1 539.4,390.1 539.4,390 542,390 542,389.8 544.6,389.8 544.6,389.6 547.2,389.6 547.2,389.5 549.8,389.5 549.8,389.6 552.4,389.6 552.4,389.7 555,389.7 555,389.8 557.6,389.8 557.6,390 560.2,390 560.2,390.2 562.8,390.2 562.8,390.4 565.4,390.4 565.4,390.3 568,390.3 568,390 570.6,390 570.6,389.7 573.2,389.7 573.2,389.4 575.8,389.4 575.8,389.3 578.4,389.3 578.4,389.3 581,389.3 581,389.2 583.6,389.2 583.6,389.2 586.2,389.2 586.2,389.1 588.8,389.1 588.8,389 591.4,389 591.4,389 594,389 594,388.9 596.6,388.9 596.6,388.8 597.9,388.8" fill="none" stroke="#111" stroke-width="1.9" stroke-linejoin="round" />
<polyline points="440,388.4 440,388 447.5,388 447.5,377.1 449.9,377.1 449.9,368.8 452.4,368.8 452.4,378 454.6,378 454.6,380.4 456.6,380.4 456.6,329.1 459.4,329.1 459.4,247.3 461.5,247.3 461.5,254.3 464.8,254.3 464.8,340.7 466.8,340.7 466.8,394.5 470.6,394.5 470.6,373 473.1,373 473.1,334.6 478.4,334.6 478.4,373 480.6,373 480.6,389.4" fill="none" stroke="#a01c1c" stroke-width="1.8" stroke-linejoin="round" />
<polyline points="558.4,390.3 558.4,389.5 560.5,389.5 560.5,383.9 562.7,383.9 562.7,359.6 565.3,359.6 565.3,332 568,332 568,346.4 570.2,346.4 570.2,374 572.4,374 572.4,370.7 574.2,370.7 574.2,351.2 577.5,351.2 577.5,355.2 580.3,355.2 580.3,378.4 582.5,378.4 582.5,389.4 585,389.4 585,389.4" fill="none" stroke="#a01c1c" stroke-width="1.8" stroke-linejoin="round" />
</g>
<rect x="43.7" y="0.3" width="554.6" height="195" fill="none" stroke="#1a1a1a" stroke-width="1.2"/>
<path d="M108.9 195.3v-4M108.9 0.3v4M193.8 195.3v-4M193.8 0.3v4M278.7 195.3v-4M278.7 0.3v4M363.5 195.3v-4M363.5 0.3v4M448.4 195.3v-4M448.4 0.3v4M533.3 195.3v-4M533.3 0.3v4M58 195.3v-2M58 0.3v2M74.9 195.3v-2M74.9 0.3v2M91.9 195.3v-2M91.9 0.3v2M125.9 195.3v-2M125.9 0.3v2M142.9 195.3v-2M142.9 0.3v2M159.8 195.3v-2M159.8 0.3v2M176.8 195.3v-2M176.8 0.3v2M210.8 195.3v-2M210.8 0.3v2M227.7 195.3v-2M227.7 0.3v2M244.7 195.3v-2M244.7 0.3v2M261.7 195.3v-2M261.7 0.3v2M295.6 195.3v-2M295.6 0.3v2M312.6 195.3v-2M312.6 0.3v2M329.6 195.3v-2M329.6 0.3v2M346.6 195.3v-2M346.6 0.3v2M380.5 195.3v-2M380.5 0.3v2M397.5 195.3v-2M397.5 0.3v2M414.5 195.3v-2M414.5 0.3v2M431.4 195.3v-2M431.4 0.3v2M465.4 195.3v-2M465.4 0.3v2M482.4 195.3v-2M482.4 0.3v2M499.3 195.3v-2M499.3 0.3v2M516.3 195.3v-2M516.3 0.3v2M550.3 195.3v-2M550.3 0.3v2M567.3 195.3v-2M567.3 0.3v2M584.2 195.3v-2M584.2 0.3v2M43.7 185.9h11M598.3 185.9h-11M43.7 157h11M598.3 157h-11M43.7 128.1h11M598.3 128.1h-11M43.7 99.1h11M598.3 99.1h-11M43.7 70.2h11M598.3 70.2h-11M43.7 41.3h11M598.3 41.3h-11M43.7 12.4h11M598.3 12.4h-11M43.7 193.1h5.5M598.3 193.1h-5.5M43.7 178.7h5.5M598.3 178.7h-5.5M43.7 171.4h5.5M598.3 171.4h-5.5M43.7 164.2h5.5M598.3 164.2h-5.5M43.7 149.8h5.5M598.3 149.8h-5.5M43.7 142.5h5.5M598.3 142.5h-5.5M43.7 135.3h5.5M598.3 135.3h-5.5M43.7 120.8h5.5M598.3 120.8h-5.5M43.7 113.6h5.5M598.3 113.6h-5.5M43.7 106.4h5.5M598.3 106.4h-5.5M43.7 91.9h5.5M598.3 91.9h-5.5M43.7 84.7h5.5M598.3 84.7h-5.5M43.7 77.5h5.5M598.3 77.5h-5.5M43.7 63h5.5M598.3 63h-5.5M43.7 55.8h5.5M598.3 55.8h-5.5M43.7 48.5h5.5M598.3 48.5h-5.5M43.7 34.1h5.5M598.3 34.1h-5.5M43.7 26.8h5.5M598.3 26.8h-5.5M43.7 19.6h5.5M598.3 19.6h-5.5M43.7 5.2h5.5M598.3 5.2h-5.5" stroke="#1a1a1a" stroke-width="1.1" fill="none"/>
<rect x="44" y="231.1" width="166.4" height="183.9" fill="none" stroke="#1a1a1a" stroke-width="1.2"/>
<path d="M81.6 415v-3.7M81.6 231.1v3.7M164.8 415v-3.7M164.8 231.1v3.7M48.3 415v-1.8M48.3 231.1v1.8M65 415v-1.8M65 231.1v1.8M98.2 415v-1.8M98.2 231.1v1.8M114.9 415v-1.8M114.9 231.1v1.8M131.5 415v-1.8M131.5 231.1v1.8M148.2 415v-1.8M148.2 231.1v1.8M181.4 415v-1.8M181.4 231.1v1.8M198.1 415v-1.8M198.1 231.1v1.8M44 385.6h3.5M210.4 385.6h-3.5M44 352.3h3.5M210.4 352.3h-3.5M44 319h3.5M210.4 319h-3.5M44 285.8h3.5M210.4 285.8h-3.5M44 252.5h3.5M210.4 252.5h-3.5M44 412.2h1.7M210.4 412.2h-1.7M44 408.9h1.7M210.4 408.9h-1.7M44 405.6h1.7M210.4 405.6h-1.7M44 402.2h1.7M210.4 402.2h-1.7M44 398.9h1.7M210.4 398.9h-1.7M44 395.6h1.7M210.4 395.6h-1.7M44 392.3h1.7M210.4 392.3h-1.7M44 388.9h1.7M210.4 388.9h-1.7M44 382.3h1.7M210.4 382.3h-1.7M44 378.9h1.7M210.4 378.9h-1.7M44 375.6h1.7M210.4 375.6h-1.7M44 372.3h1.7M210.4 372.3h-1.7M44 369h1.7M210.4 369h-1.7M44 365.6h1.7M210.4 365.6h-1.7M44 362.3h1.7M210.4 362.3h-1.7M44 359h1.7M210.4 359h-1.7M44 355.6h1.7M210.4 355.6h-1.7M44 349h1.7M210.4 349h-1.7M44 345.7h1.7M210.4 345.7h-1.7M44 342.3h1.7M210.4 342.3h-1.7M44 339h1.7M210.4 339h-1.7M44 335.7h1.7M210.4 335.7h-1.7M44 332.4h1.7M210.4 332.4h-1.7M44 329h1.7M210.4 329h-1.7M44 325.7h1.7M210.4 325.7h-1.7M44 322.4h1.7M210.4 322.4h-1.7M44 315.7h1.7M210.4 315.7h-1.7M44 312.4h1.7M210.4 312.4h-1.7M44 309.1h1.7M210.4 309.1h-1.7M44 305.7h1.7M210.4 305.7h-1.7M44 302.4h1.7M210.4 302.4h-1.7M44 299.1h1.7M210.4 299.1h-1.7M44 295.7h1.7M210.4 295.7h-1.7M44 292.4h1.7M210.4 292.4h-1.7M44 289.1h1.7M210.4 289.1h-1.7M44 282.4h1.7M210.4 282.4h-1.7M44 279.1h1.7M210.4 279.1h-1.7M44 275.8h1.7M210.4 275.8h-1.7M44 272.4h1.7M210.4 272.4h-1.7M44 269.1h1.7M210.4 269.1h-1.7M44 265.8h1.7M210.4 265.8h-1.7M44 262.5h1.7M210.4 262.5h-1.7M44 259.1h1.7M210.4 259.1h-1.7M44 255.8h1.7M210.4 255.8h-1.7M44 249.2h1.7M210.4 249.2h-1.7M44 245.8h1.7M210.4 245.8h-1.7M44 242.5h1.7M210.4 242.5h-1.7M44 239.2h1.7M210.4 239.2h-1.7M44 235.8h1.7M210.4 235.8h-1.7M44 232.5h1.7M210.4 232.5h-1.7" stroke="#1a1a1a" stroke-width="1.1" fill="none"/>
<rect x="238.4" y="231" width="165.9" height="183.7" fill="none" stroke="#1a1a1a" stroke-width="1.2"/>
<path d="M297.8 414.7v-3.7M297.8 231v3.7M365.5 414.7v-3.7M365.5 231v3.7M243.6 414.7v-1.8M243.6 231v1.8M250.4 414.7v-1.8M250.4 231v1.8M257.2 414.7v-1.8M257.2 231v1.8M263.9 414.7v-1.8M263.9 231v1.8M270.7 414.7v-1.8M270.7 231v1.8M277.5 414.7v-1.8M277.5 231v1.8M284.3 414.7v-1.8M284.3 231v1.8M291 414.7v-1.8M291 231v1.8M304.6 414.7v-1.8M304.6 231v1.8M311.3 414.7v-1.8M311.3 231v1.8M318.1 414.7v-1.8M318.1 231v1.8M324.9 414.7v-1.8M324.9 231v1.8M331.7 414.7v-1.8M331.7 231v1.8M338.4 414.7v-1.8M338.4 231v1.8M345.2 414.7v-1.8M345.2 231v1.8M352 414.7v-1.8M352 231v1.8M358.7 414.7v-1.8M358.7 231v1.8M372.3 414.7v-1.8M372.3 231v1.8M379 414.7v-1.8M379 231v1.8M385.8 414.7v-1.8M385.8 231v1.8M392.6 414.7v-1.8M392.6 231v1.8M399.4 414.7v-1.8M399.4 231v1.8M238.4 414.3h3.5M404.3 414.3h-3.5M238.4 364.7h3.5M404.3 364.7h-3.5M238.4 315.1h3.5M404.3 315.1h-3.5M238.4 265.5h3.5M404.3 265.5h-3.5M238.4 409.3h1.7M404.3 409.3h-1.7M238.4 404.4h1.7M404.3 404.4h-1.7M238.4 399.4h1.7M404.3 399.4h-1.7M238.4 394.5h1.7M404.3 394.5h-1.7M238.4 389.5h1.7M404.3 389.5h-1.7M238.4 384.5h1.7M404.3 384.5h-1.7M238.4 379.6h1.7M404.3 379.6h-1.7M238.4 374.6h1.7M404.3 374.6h-1.7M238.4 369.7h1.7M404.3 369.7h-1.7M238.4 359.7h1.7M404.3 359.7h-1.7M238.4 354.8h1.7M404.3 354.8h-1.7M238.4 349.8h1.7M404.3 349.8h-1.7M238.4 344.9h1.7M404.3 344.9h-1.7M238.4 339.9h1.7M404.3 339.9h-1.7M238.4 334.9h1.7M404.3 334.9h-1.7M238.4 330h1.7M404.3 330h-1.7M238.4 325h1.7M404.3 325h-1.7M238.4 320.1h1.7M404.3 320.1h-1.7M238.4 310.1h1.7M404.3 310.1h-1.7M238.4 305.2h1.7M404.3 305.2h-1.7M238.4 300.2h1.7M404.3 300.2h-1.7M238.4 295.3h1.7M404.3 295.3h-1.7M238.4 290.3h1.7M404.3 290.3h-1.7M238.4 285.3h1.7M404.3 285.3h-1.7M238.4 280.4h1.7M404.3 280.4h-1.7M238.4 275.4h1.7M404.3 275.4h-1.7M238.4 270.5h1.7M404.3 270.5h-1.7M238.4 260.5h1.7M404.3 260.5h-1.7M238.4 255.6h1.7M404.3 255.6h-1.7M238.4 250.6h1.7M404.3 250.6h-1.7M238.4 245.7h1.7M404.3 245.7h-1.7M238.4 240.7h1.7M404.3 240.7h-1.7M238.4 235.7h1.7M404.3 235.7h-1.7" stroke="#1a1a1a" stroke-width="1.1" fill="none"/>
<rect x="432.8" y="231.2" width="165.1" height="183.5" fill="none" stroke="#1a1a1a" stroke-width="1.2"/>
<path d="M488.2 414.7v-3.7M488.2 231.2v3.7M556.1 414.7v-3.7M556.1 231.2v3.7M433.9 414.7v-1.8M433.9 231.2v1.8M440.7 414.7v-1.8M440.7 231.2v1.8M447.5 414.7v-1.8M447.5 231.2v1.8M454.2 414.7v-1.8M454.2 231.2v1.8M461 414.7v-1.8M461 231.2v1.8M467.8 414.7v-1.8M467.8 231.2v1.8M474.6 414.7v-1.8M474.6 231.2v1.8M481.4 414.7v-1.8M481.4 231.2v1.8M495 414.7v-1.8M495 231.2v1.8M501.8 414.7v-1.8M501.8 231.2v1.8M508.6 414.7v-1.8M508.6 231.2v1.8M515.4 414.7v-1.8M515.4 231.2v1.8M522.1 414.7v-1.8M522.1 231.2v1.8M528.9 414.7v-1.8M528.9 231.2v1.8M535.7 414.7v-1.8M535.7 231.2v1.8M542.5 414.7v-1.8M542.5 231.2v1.8M549.3 414.7v-1.8M549.3 231.2v1.8M562.9 414.7v-1.8M562.9 231.2v1.8M569.7 414.7v-1.8M569.7 231.2v1.8M576.5 414.7v-1.8M576.5 231.2v1.8M583.3 414.7v-1.8M583.3 231.2v1.8M590 414.7v-1.8M590 231.2v1.8M596.8 414.7v-1.8M596.8 231.2v1.8M432.8 412.1h3.3M597.9 412.1h-3.3M432.8 382.4h3.3M597.9 382.4h-3.3M432.8 352.7h3.3M597.9 352.7h-3.3M432.8 323h3.3M597.9 323h-3.3M432.8 293.3h3.3M597.9 293.3h-3.3M432.8 263.6h3.3M597.9 263.6h-3.3M432.8 233.9h3.3M597.9 233.9h-3.3M432.8 404.7h1.6M597.9 404.7h-1.6M432.8 397.2h1.6M597.9 397.2h-1.6M432.8 389.8h1.6M597.9 389.8h-1.6M432.8 375h1.6M597.9 375h-1.6M432.8 367.6h1.6M597.9 367.6h-1.6M432.8 360.1h1.6M597.9 360.1h-1.6M432.8 345.3h1.6M597.9 345.3h-1.6M432.8 337.9h1.6M597.9 337.9h-1.6M432.8 330.4h1.6M597.9 330.4h-1.6M432.8 315.6h1.6M597.9 315.6h-1.6M432.8 308.2h1.6M597.9 308.2h-1.6M432.8 300.7h1.6M597.9 300.7h-1.6M432.8 285.9h1.6M597.9 285.9h-1.6M432.8 278.5h1.6M597.9 278.5h-1.6M432.8 271h1.6M597.9 271h-1.6M432.8 256.2h1.6M597.9 256.2h-1.6M432.8 248.8h1.6M597.9 248.8h-1.6M432.8 241.3h1.6M597.9 241.3h-1.6" stroke="#1a1a1a" stroke-width="1.1" fill="none"/>
<g font-family='"Liberation Serif", serif' fill="#111" stroke="#111" stroke-width="0.18">
<text x="39" y="190.9" font-size="13.0" text-anchor="end" textLength="7" lengthAdjust="spacing"  font-family="Liberation Sans, sans-serif">0</text>
<text x="39" y="162" font-size="13.0" text-anchor="end" textLength="7" lengthAdjust="spacing"  font-family="Liberation Sans, sans-serif">2</text>
<text x="39" y="133.1" font-size="13.0" text-anchor="end" textLength="7" lengthAdjust="spacing"  font-family="Liberation Sans, sans-serif">4</text>
<text x="39" y="104.1" font-size="13.0" text-anchor="end" textLength="7" lengthAdjust="spacing"  font-family="Liberation Sans, sans-serif">6</text>
<text x="39.2" y="75.4" font-size="13.7" text-anchor="end" textLength="7" lengthAdjust="spacingAndGlyphs" >8</text>
<text x="39.2" y="46.5" font-size="13.7" text-anchor="end" textLength="14" lengthAdjust="spacingAndGlyphs" >10</text>
<text x="39.2" y="17.6" font-size="13.7" text-anchor="end" textLength="14" lengthAdjust="spacingAndGlyphs" >12</text>
<text x="108.5" y="214" font-size="13.7" text-anchor="middle" textLength="32" lengthAdjust="spacingAndGlyphs" >4000</text>
<text x="193.4" y="214" font-size="13.7" text-anchor="middle" textLength="32" lengthAdjust="spacingAndGlyphs" >4500</text>
<text x="278.3" y="214" font-size="13.2" text-anchor="middle" textLength="31.6" lengthAdjust="spacing"  font-family="Liberation Sans, sans-serif">5000</text>
<text x="363.1" y="214" font-size="13.2" text-anchor="middle" textLength="31.6" lengthAdjust="spacing"  font-family="Liberation Sans, sans-serif">5500</text>
<text x="448" y="214" font-size="13.2" text-anchor="middle" textLength="31.6" lengthAdjust="spacing"  font-family="Liberation Sans, sans-serif">6000</text>
<text x="532.9" y="214" font-size="13.2" text-anchor="middle" textLength="31.6" lengthAdjust="spacing"  font-family="Liberation Sans, sans-serif">6500</text>
<text x="62.4" y="24.2" font-size="13.7" text-anchor="start" textLength="26.2" lengthAdjust="spacing" >NGC</text>
<text x="96.6" y="24.2" font-size="13.7" text-anchor="start" textLength="31.3" lengthAdjust="spacingAndGlyphs" >0024</text>
<text x="39" y="390.6" font-size="12.6" text-anchor="end" textLength="6.9" lengthAdjust="spacing"  font-family="Liberation Sans, sans-serif">3</text>
<text x="39" y="357.3" font-size="12.6" text-anchor="end" textLength="6.9" lengthAdjust="spacing"  font-family="Liberation Sans, sans-serif">4</text>
<text x="39" y="324" font-size="12.6" text-anchor="end" textLength="6.9" lengthAdjust="spacing"  font-family="Liberation Sans, sans-serif">5</text>
<text x="39" y="290.8" font-size="12.6" text-anchor="end" textLength="6.9" lengthAdjust="spacing"  font-family="Liberation Sans, sans-serif">6</text>
<text x="39" y="257.5" font-size="12.6" text-anchor="end" textLength="6.9" lengthAdjust="spacing"  font-family="Liberation Sans, sans-serif">7</text>
<text x="81.6" y="434" font-size="12.6" text-anchor="middle" textLength="31.6" lengthAdjust="spacing"  font-family="Liberation Sans, sans-serif">3700</text>
<text x="164.8" y="434" font-size="12.6" text-anchor="middle" textLength="31.6" lengthAdjust="spacing"  font-family="Liberation Sans, sans-serif">3750</text>
<text x="60.2" y="250.5" font-size="12.2" text-anchor="start" textLength="12.8" lengthAdjust="spacingAndGlyphs" >[O</text>
<text x="78.6" y="250.5" font-size="12.2" text-anchor="start" textLength="11.2" lengthAdjust="spacingAndGlyphs" >II]</text>
<text x="233.2" y="369.7" font-size="12.6" text-anchor="end" textLength="6.9" lengthAdjust="spacing"  font-family="Liberation Sans, sans-serif">7</text>
<text x="233.2" y="320.1" font-size="12.6" text-anchor="end" textLength="6.9" lengthAdjust="spacing"  font-family="Liberation Sans, sans-serif">8</text>
<text x="233.2" y="270.5" font-size="12.6" text-anchor="end" textLength="6.9" lengthAdjust="spacing"  font-family="Liberation Sans, sans-serif">9</text>
<text x="233.2" y="414.8" font-size="12.6" text-anchor="end" textLength="6.9" lengthAdjust="spacing"  font-family="Liberation Sans, sans-serif">6</text>
<text x="297.8" y="434" font-size="12.6" text-anchor="middle" textLength="32" lengthAdjust="spacing"  font-family="Liberation Sans, sans-serif">4900</text>
<text x="365.5" y="434" font-size="12.6" text-anchor="middle" textLength="32" lengthAdjust="spacing"  font-family="Liberation Sans, sans-serif">5000</text>
<text x="254.4" y="250.4" font-size="12.2" text-anchor="start" textLength="38.3" lengthAdjust="spacingAndGlyphs" >H<tspan font-style="italic">β</tspan>+[O</text>
<text x="298.1" y="250.4" font-size="12.2" text-anchor="start" textLength="16.5" lengthAdjust="spacingAndGlyphs" >III]</text>
<text x="427.5" y="387.3" font-size="13" text-anchor="end" textLength="14.2" lengthAdjust="spacingAndGlyphs" >10</text>
<text x="427.5" y="357.6" font-size="13" text-anchor="end" textLength="14.2" lengthAdjust="spacingAndGlyphs" >12</text>
<text x="427.5" y="327.9" font-size="13" text-anchor="end" textLength="14.2" lengthAdjust="spacingAndGlyphs" >14</text>
<text x="427.5" y="298.2" font-size="13" text-anchor="end" textLength="14.2" lengthAdjust="spacingAndGlyphs" >16</text>
<text x="427.5" y="268.5" font-size="13" text-anchor="end" textLength="14.2" lengthAdjust="spacingAndGlyphs" >18</text>
<text x="427.5" y="239.6" font-size="13" text-anchor="end" textLength="14.2" lengthAdjust="spacingAndGlyphs" >20</text>
<text x="427.5" y="414.8" font-size="13" text-anchor="end" textLength="6.9" lengthAdjust="spacing" >8</text>
<text x="488.2" y="434" font-size="12.6" text-anchor="middle" textLength="32" lengthAdjust="spacing"  font-family="Liberation Sans, sans-serif">6600</text>
<text x="556.1" y="434" font-size="12.6" text-anchor="middle" textLength="32" lengthAdjust="spacing"  font-family="Liberation Sans, sans-serif">6700</text>
<text x="484.8" y="250.4" font-size="12.2" text-anchor="start" textLength="40.5" lengthAdjust="spacingAndGlyphs" >H<tspan font-style="italic">α</tspan>+[N</text>
<text x="530.2" y="250.4" font-size="12.2" text-anchor="start" textLength="31.6" lengthAdjust="spacingAndGlyphs" >II]+[S</text>
<text x="566.5" y="250.4" font-size="12.2" text-anchor="start" textLength="14.6" lengthAdjust="spacingAndGlyphs" >II]</text>
<text x="57.8" y="450.1" font-size="13.7" text-anchor="start" textLength="28.6" lengthAdjust="spacing" >Rest</text>
<text x="93.1" y="450.1" font-size="13.7" text-anchor="start" textLength="77" lengthAdjust="spacing" >Wavelength</text>
<text x="177.5" y="450.1" font-size="13.7" text-anchor="start" textLength="4.6" lengthAdjust="spacing" >(</text>
<text x="186.6" y="449.6" font-size="11.8" text-anchor="middle" >Å</text>
<text x="190.9" y="450.1" font-size="13.7" text-anchor="start" textLength="4.6" lengthAdjust="spacing" >)</text>
<text x="251.9" y="450.1" font-size="13.7" text-anchor="start" textLength="28.6" lengthAdjust="spacing" >Rest</text>
<text x="287.2" y="450.1" font-size="13.7" text-anchor="start" textLength="77" lengthAdjust="spacing" >Wavelength</text>
<text x="371.6" y="450.1" font-size="13.7" text-anchor="start" textLength="4.6" lengthAdjust="spacing" >(</text>
<text x="380.7" y="449.6" font-size="11.8" text-anchor="middle" >Å</text>
<text x="385" y="450.1" font-size="13.7" text-anchor="start" textLength="4.6" lengthAdjust="spacing" >)</text>
<text x="446.5" y="450.1" font-size="13.7" text-anchor="start" textLength="28.6" lengthAdjust="spacing" >Rest</text>
<text x="481.8" y="450.1" font-size="13.7" text-anchor="start" textLength="77" lengthAdjust="spacing" >Wavelength</text>
<text x="566.2" y="450.1" font-size="13.7" text-anchor="start" textLength="4.6" lengthAdjust="spacing" >(</text>
<text x="575.3" y="449.6" font-size="11.8" text-anchor="middle" >Å</text>
<text x="579.6" y="450.1" font-size="13.7" text-anchor="start" textLength="4.6" lengthAdjust="spacing" >)</text>
<text transform="translate(12.6 295.5) rotate(-90)" font-size="14" textLength="28.9" lengthAdjust="spacingAndGlyphs">Flux</text>
<text transform="translate(12.6 258.3) rotate(-90)" font-size="14" textLength="4.9" lengthAdjust="spacingAndGlyphs">(</text>
<text transform="translate(12.6 251.4) rotate(-90)" font-size="14" textLength="13.8" lengthAdjust="spacingAndGlyphs">10</text>
<text transform="translate(6.2 236.8) rotate(-90)" font-size="9" textLength="16.6" lengthAdjust="spacingAndGlyphs">−15</text>
<text transform="translate(12.6 213.6) rotate(-90)" font-size="14" textLength="22.2" lengthAdjust="spacingAndGlyphs">erg</text>
<text transform="translate(12.6 184.8) rotate(-90)" font-size="14" textLength="6.5" lengthAdjust="spacingAndGlyphs">s</text>
<text transform="translate(6.2 177.4) rotate(-90)" font-size="9" textLength="10.8" lengthAdjust="spacingAndGlyphs">−1</text>
<text transform="translate(12.6 159.4) rotate(-90)" font-size="14" textLength="20.3" lengthAdjust="spacingAndGlyphs">cm</text>
<text transform="translate(6.2 137.8) rotate(-90)" font-size="9" textLength="11.6" lengthAdjust="spacingAndGlyphs">−2</text>
<text transform="translate(11.8 121.4) rotate(-90)" font-size="12.5" textLength="9" lengthAdjust="spacingAndGlyphs">Å</text>
<text transform="translate(6.2 112.2) rotate(-90)" font-size="9" textLength="10.4" lengthAdjust="spacingAndGlyphs">−1</text>
<text transform="translate(12.4 101.1) rotate(-90)" font-size="14" textLength="4.9" lengthAdjust="spacingAndGlyphs">)</text>
</g>
</svg>
</body></html>
